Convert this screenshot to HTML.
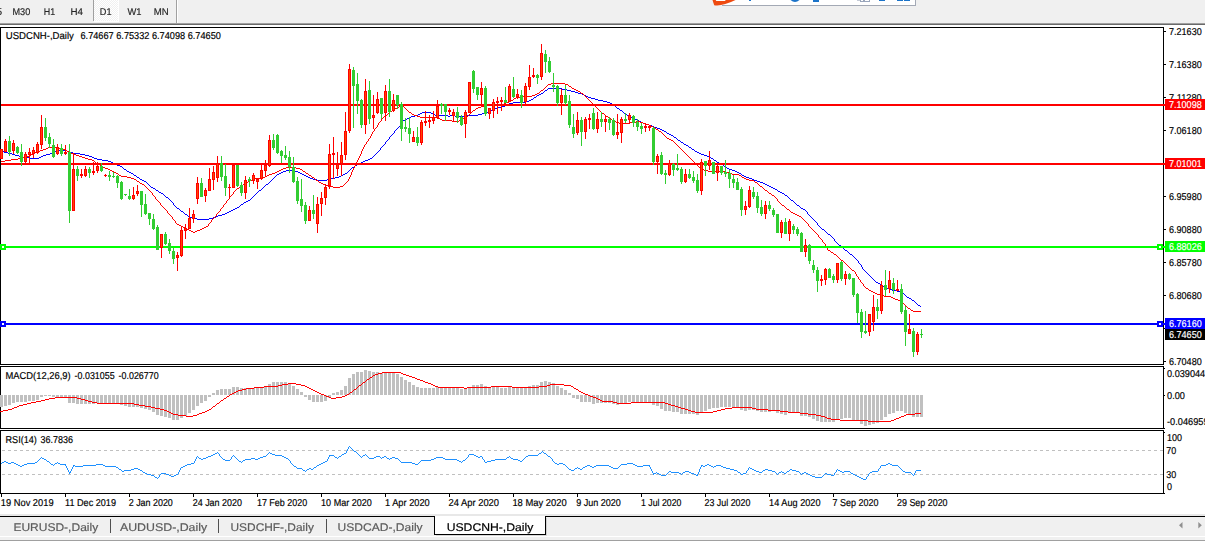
<!DOCTYPE html>
<html><head><meta charset="utf-8"><title>USDCNH-,Daily</title>
<style>
html,body{margin:0;padding:0;background:#fff;width:1205px;height:541px;overflow:hidden}
svg{display:block;font-family:"Liberation Sans",sans-serif}
</style></head><body>
<svg width="1205" height="541" viewBox="0 0 1205 541">
<rect x="0" y="0" width="1205" height="541" fill="#ffffff"/>
<rect x="0" y="0" width="1205" height="23" fill="#f0f0f0"/>
<rect x="0" y="23" width="1205" height="1" fill="#a0a0a0"/>
<rect x="0" y="24" width="1205" height="1" fill="#696969"/>
<rect x="93" y="0" width="1" height="21" fill="#a0a0a0"/>
<defs><filter id="idf" x="0" y="0" width="100%" height="100%"><feOffset dx="0" dy="0"/></filter><pattern id="dz" width="2" height="2" patternUnits="userSpaceOnUse"><rect width="2" height="2" fill="#f0f0f0"/><rect width="1" height="1" fill="#fff"/><rect x="1" y="1" width="1" height="1" fill="#fff"/></pattern></defs>
<rect x="94" y="0" width="24" height="21" fill="url(#dz)"/>
<rect x="94" y="21" width="25" height="1" fill="#ffffff"/>
<rect x="118" y="0" width="1" height="22" fill="#ffffff"/>
<rect x="176" y="0" width="1" height="23" fill="#a0a0a0"/>
<rect x="177" y="0" width="1" height="23" fill="#ffffff"/>
<g filter="url(#idf)">
<text transform="translate(-3.60,15) rotate(0.03) scale(0.5036,0.4900)" font-size="20" fill="#262626" stroke="#262626" stroke-width="0.35">5</text>
<text transform="translate(12.50,15) rotate(0.03) scale(0.4576,0.4900)" font-size="20" fill="#262626" stroke="#262626" stroke-width="0.35">M30</text>
<text transform="translate(43.80,15) rotate(0.03) scale(0.4460,0.4900)" font-size="20" fill="#262626" stroke="#262626" stroke-width="0.35">H1</text>
<text transform="translate(70.50,15) rotate(0.03) scale(0.4890,0.4900)" font-size="20" fill="#262626" stroke="#262626" stroke-width="0.35">H4</text>
<text transform="translate(99.80,15) rotate(0.03) scale(0.4577,0.4900)" font-size="20" fill="#262626" stroke="#262626" stroke-width="0.35">D1</text>
<text transform="translate(127.50,15) rotate(0.03) scale(0.4700,0.4900)" font-size="20" fill="#262626" stroke="#262626" stroke-width="0.35">W1</text>
<text transform="translate(153.75,15) rotate(0.03) scale(0.4823,0.4900)" font-size="20" fill="#262626" stroke="#262626" stroke-width="0.35">MN</text>
</g>
<rect x="714" y="0" width="201" height="5" fill="#ffffff"/>
<rect x="722" y="5" width="194" height="1" fill="#a3a9b5"/>
<rect x="915" y="0" width="1" height="6" fill="#a3a9b5"/>
<path d="M712.5 0 L714.2 5.2 Q722 6.6 735.5 0 Z" fill="#ee4a10"/>
<path d="M715.7 0 L716.3 1 L724.8 1 L725.9 0 Z" fill="#ffffff"/>
<rect x="749" y="0" width="2" height="1" fill="#1a73c9"/>
<path d="M790.5 0 Q795 4 799.5 0 Z" fill="#1a73c9"/>
<rect x="813" y="0" width="6" height="2" fill="#1a73c9"/>
<rect x="857" y="0" width="3" height="1" fill="#c4cad6"/>
<rect x="860" y="0" width="1" height="2" fill="#9aa6bc"/>
<rect x="863" y="0" width="1" height="2" fill="#9aa6bc"/>
<rect x="860" y="1" width="4" height="1" fill="#9aa6bc"/>
<rect x="864" y="0" width="1" height="2" fill="#9aa6bc"/>
<rect x="869" y="0" width="1" height="2" fill="#9aa6bc"/>
<rect x="864" y="1" width="6" height="1" fill="#9aa6bc"/>
<rect x="879" y="0" width="6" height="1" fill="#1a73c9"/>
<rect x="897" y="0" width="6" height="1" fill="#1a73c9"/>
<rect x="904" y="0" width="6" height="1" fill="#1a73c9"/>
<rect x="0" y="27" width="1164" height="1" fill="#000"/>
<rect x="0" y="27" width="1" height="338" fill="#000"/>
<rect x="0" y="364" width="1164" height="1" fill="#000"/>
<rect x="1163" y="27" width="1" height="338" fill="#000"/>
<rect x="1163" y="366" width="1" height="63" fill="#000"/>
<rect x="1163" y="430" width="1" height="64" fill="#000"/>
<rect x="0" y="366" width="1164" height="1" fill="#000"/>
<rect x="0" y="366" width="1" height="63" fill="#000"/>
<rect x="0" y="428" width="1165" height="1" fill="#000"/>
<rect x="0" y="430" width="1164" height="1" fill="#000"/>
<rect x="0" y="430" width="1" height="64" fill="#000"/>
<rect x="0" y="493" width="1165" height="1" fill="#000"/>
<rect x="1164" y="31" width="2" height="1" fill="#000"/>
<text transform="translate(1169.00,35) rotate(0.03) scale(0.4530,0.5000)" font-size="20" fill="#000" stroke="#000" stroke-width="0.35">7.21630</text>
<rect x="1164" y="64" width="2" height="1" fill="#000"/>
<text transform="translate(1169.00,68) rotate(0.03) scale(0.4530,0.5000)" font-size="20" fill="#000" stroke="#000" stroke-width="0.35">7.16380</text>
<rect x="1164" y="97" width="2" height="1" fill="#000"/>
<text transform="translate(1169.00,101) rotate(0.03) scale(0.4624,0.5000)" font-size="20" fill="#000" stroke="#000" stroke-width="0.35">7.11280</text>
<rect x="1164" y="130" width="2" height="1" fill="#000"/>
<text transform="translate(1169.00,134) rotate(0.03) scale(0.4530,0.5000)" font-size="20" fill="#000" stroke="#000" stroke-width="0.35">7.06180</text>
<rect x="1164" y="163" width="2" height="1" fill="#000"/>
<text transform="translate(1169.00,167) rotate(0.03) scale(0.4530,0.5000)" font-size="20" fill="#000" stroke="#000" stroke-width="0.35">7.01080</text>
<rect x="1164" y="196" width="2" height="1" fill="#000"/>
<text transform="translate(1169.00,200) rotate(0.03) scale(0.4530,0.5000)" font-size="20" fill="#000" stroke="#000" stroke-width="0.35">6.95980</text>
<rect x="1164" y="229" width="2" height="1" fill="#000"/>
<text transform="translate(1169.00,233) rotate(0.03) scale(0.4530,0.5000)" font-size="20" fill="#000" stroke="#000" stroke-width="0.35">6.90880</text>
<rect x="1164" y="262" width="2" height="1" fill="#000"/>
<text transform="translate(1169.00,266) rotate(0.03) scale(0.4530,0.5000)" font-size="20" fill="#000" stroke="#000" stroke-width="0.35">6.85780</text>
<rect x="1164" y="295" width="2" height="1" fill="#000"/>
<text transform="translate(1169.00,299) rotate(0.03) scale(0.4530,0.5000)" font-size="20" fill="#000" stroke="#000" stroke-width="0.35">6.80680</text>
<rect x="1164" y="328" width="2" height="1" fill="#000"/>
<text transform="translate(1169.00,332) rotate(0.03) scale(0.4530,0.5000)" font-size="20" fill="#000" stroke="#000" stroke-width="0.35">6.75580</text>
<rect x="1164" y="361" width="2" height="1" fill="#000"/>
<text transform="translate(1169.00,365) rotate(0.03) scale(0.4530,0.5000)" font-size="20" fill="#000" stroke="#000" stroke-width="0.35">6.70480</text>
<path d="M548 88.5h14M547 89.5h1M562 89.5h5M545 90.5h2M567 90.5h4M544 91.5h1M571 91.5h4M543 92.5h1M575 92.5h3M541 93.5h2M578 93.5h4M539 94.5h2M582 94.5h2M537 95.5h2M584 95.5h2M536 96.5h1M586 96.5h2M534 97.5h2M588 97.5h3M533 98.5h1M591 98.5h4M531 99.5h2M595 99.5h3M529 100.5h2M598 100.5h5M525 101.5h4M603 101.5h4M513 102.5h12M607 102.5h3M509 103.5h4M610 103.5h2M507 104.5h2M612 104.5h1M505 105.5h2M613 105.5h2M502 106.5h3M615 106.5h1M498 107.5h4M616 107.5h1M495 108.5h3M617 108.5h2M493 109.5h2M619 109.5h1M491 110.5h2M620 110.5h2M489 111.5h2M622 111.5h1M422 112.5h9M485 112.5h4M623 112.5h1M420 113.5h2M431 113.5h2M482 113.5h3M624 113.5h2M418 114.5h2M433 114.5h2M478 114.5h4M626 114.5h1M415 115.5h3M435 115.5h13M450 115.5h5M467 115.5h11M627 115.5h1M411 116.5h4M448 116.5h2M455 116.5h12M628 116.5h2M409 117.5h2M630 117.5h2M407 118.5h2M632 118.5h3M405 119.5h2M635 119.5h2M403 120.5h2M637 120.5h2M402.5 121v2M639 121.5h2M641 122.5h2M401.5 123v2M643 123.5h3M646 124.5h3M400 125.5h1M649 125.5h3M399 126.5h1M652 126.5h2M398 127.5h1M654 127.5h3M397 128.5h1M657 128.5h3M396 129.5h1M660 129.5h2M395 130.5h1M662 130.5h2M394.5 131v2M664 131.5h2M666 132.5h1M393 133.5h1M667 133.5h2M392 134.5h1M669 134.5h2M391 135.5h1M671 135.5h2M390 136.5h1M673 136.5h1M389.5 137v2M674 137.5h2M676 138.5h1M388 139.5h1M677 139.5h1M387 140.5h1M678 140.5h2M386 141.5h1M680 141.5h1M385.5 142v2M681 142.5h2M683 143.5h1M384 144.5h1M684 144.5h2M383 145.5h1M686 145.5h2M382 146.5h1M688 146.5h1M381 147.5h1M689 147.5h2M380.5 148v2M691 148.5h1M692 149.5h2M57 150.5h10M379 150.5h1M694 150.5h1M1 151.5h3M55 151.5h2M67 151.5h2M378 151.5h1M695 151.5h2M4 152.5h4M53 152.5h2M69 152.5h4M377 152.5h1M697 152.5h2M8 153.5h4M50 153.5h3M73 153.5h7M376 153.5h1M699 153.5h2M12 154.5h3M46 154.5h4M80 154.5h5M375 154.5h1M701 154.5h3M15 155.5h4M43 155.5h3M85 155.5h4M374 155.5h1M704 155.5h3M19 156.5h4M41 156.5h2M89 156.5h3M373 156.5h1M707 156.5h2M23 157.5h7M39 157.5h2M92 157.5h2M372 157.5h1M709 157.5h2M30 158.5h9M94 158.5h3M370 158.5h2M711 158.5h2M97 159.5h5M368 159.5h2M713 159.5h1M102 160.5h6M365 160.5h3M714 160.5h2M108 161.5h3M363 161.5h2M716 161.5h1M111 162.5h2M361 162.5h2M717 162.5h2M113 163.5h2M359 163.5h2M719 163.5h2M115 164.5h2M357 164.5h2M721 164.5h2M117 165.5h3M355 165.5h2M723 165.5h1M120 166.5h2M354 166.5h1M724 166.5h2M122 167.5h1M352 167.5h2M726 167.5h1M123 168.5h1M351 168.5h1M727 168.5h2M124 169.5h2M350 169.5h1M729 169.5h3M126 170.5h1M286 170.5h9M349 170.5h1M732 170.5h3M127 171.5h2M283 171.5h3M295 171.5h3M348 171.5h1M735 171.5h2M129 172.5h2M281 172.5h2M298 172.5h2M347 172.5h1M737 172.5h2M131 173.5h2M279 173.5h2M300 173.5h2M345 173.5h2M739 173.5h2M133 174.5h1M277 174.5h2M302 174.5h2M343 174.5h2M741 174.5h1M134 175.5h2M276 175.5h1M304 175.5h2M341 175.5h2M742 175.5h2M136 176.5h1M275 176.5h1M306 176.5h2M339 176.5h2M744 176.5h2M137 177.5h2M274 177.5h1M308 177.5h2M335 177.5h4M746 177.5h3M139 178.5h1M273 178.5h1M310 178.5h3M331 178.5h4M749 178.5h3M140 179.5h2M272 179.5h1M313 179.5h4M327 179.5h4M752 179.5h2M142 180.5h2M271 180.5h1M317 180.5h10M754 180.5h3M144 181.5h2M270 181.5h1M757 181.5h3M146 182.5h1M269 182.5h1M760 182.5h3M147 183.5h1M268 183.5h1M763 183.5h2M148 184.5h1M266 184.5h2M765 184.5h2M149 185.5h1M265 185.5h1M767 185.5h2M150 186.5h1M264 186.5h1M769 186.5h2M151 187.5h2M263 187.5h1M771 187.5h2M153 188.5h2M262 188.5h1M773 188.5h2M155 189.5h1M261 189.5h1M775 189.5h2M156 190.5h2M259 190.5h2M777 190.5h1M158 191.5h1M258 191.5h1M778 191.5h2M159 192.5h2M257 192.5h1M780 192.5h2M161 193.5h2M256 193.5h1M782 193.5h2M163 194.5h1M255 194.5h1M784 194.5h1M164 195.5h1M254 195.5h1M785 195.5h2M165 196.5h1M253 196.5h1M787 196.5h1M166 197.5h2M252 197.5h1M788 197.5h1M168 198.5h1M251 198.5h1M789 198.5h1M169 199.5h1M250 199.5h1M790 199.5h1M170 200.5h1M248 200.5h2M791 200.5h2M171 201.5h1M246 201.5h2M793 201.5h1M172 202.5h1M244 202.5h2M794 202.5h1M173.5 203v2M243 203.5h1M795 203.5h1M241 204.5h2M796 204.5h1M174 205.5h1M240 205.5h1M797 205.5h2M175 206.5h1M239 206.5h1M799 206.5h1M176 207.5h1M237 207.5h2M800 207.5h1M177 208.5h2M235 208.5h2M801 208.5h2M179 209.5h1M233 209.5h2M803 209.5h2M180 210.5h1M231 210.5h2M805 210.5h1M181 211.5h2M229 211.5h2M806 211.5h1M183 212.5h1M227 212.5h2M807.5 212v2M184 213.5h1M225 213.5h2M185 214.5h2M222 214.5h3M808 214.5h1M187 215.5h1M218 215.5h4M809 215.5h1M188 216.5h2M216 216.5h2M810 216.5h1M190 217.5h3M213 217.5h3M811 217.5h1M193 218.5h4M209 218.5h4M812 218.5h1M197 219.5h12M813 219.5h1M814 220.5h1M815 221.5h1M816 222.5h1M817.5 223v2M818 225.5h1M819 226.5h1M820 227.5h1M821 228.5h1M822 229.5h2M824 230.5h1M825 231.5h1M826 232.5h1M827 233.5h1M828 234.5h2M830 235.5h1M831 236.5h1M832 237.5h1M833 238.5h1M834.5 239v2M835 241.5h1M836 242.5h1M837 243.5h1M838 244.5h1M839 245.5h2M841 246.5h1M842 247.5h1M843 248.5h1M844 249.5h1M845 250.5h2M847 251.5h1M848 252.5h1M849 253.5h1M850 254.5h2M852 255.5h1M853 256.5h1M854 257.5h1M855 258.5h1M856 259.5h1M857 260.5h1M858.5 261v2M859 263.5h1M860 264.5h1M861.5 265v2M862.5 267v2M863 269.5h1M864 270.5h1M865 271.5h1M866 272.5h1M867 273.5h1M868 274.5h1M869 275.5h1M870 276.5h1M871 277.5h1M872 278.5h1M873 279.5h1M874 280.5h1M875 281.5h1M876 282.5h2M878 283.5h2M880 284.5h2M882 285.5h1M883 286.5h2M885 287.5h2M887 288.5h2M889 289.5h3M892 290.5h5M897 291.5h3M900 292.5h2M902 293.5h2M904 294.5h1M905 295.5h1M906 296.5h1M907 297.5h2M909 298.5h2M911 299.5h1M912 300.5h2M914 301.5h1M915 302.5h1M916 303.5h1M917 304.5h1M918 305.5h2M920 306.5h1" fill="none" stroke="#0000ff" stroke-width="1" shape-rendering="crispEdges"/>
<path d="M551 83.5h14M548 84.5h3M565 84.5h3M547 85.5h1M568 85.5h1M546 86.5h1M569 86.5h2M545 87.5h1M571 87.5h1M544 88.5h1M572 88.5h2M543 89.5h1M574 89.5h2M541 90.5h2M576 90.5h2M540 91.5h1M578 91.5h2M539 92.5h1M580 92.5h1M537 93.5h2M581 93.5h2M535 94.5h2M583 94.5h1M532 95.5h3M584 95.5h1M520 96.5h12M585 96.5h1M516 97.5h4M586 97.5h1M514 98.5h2M587 98.5h1M513 99.5h1M588 99.5h1M511 100.5h2M589 100.5h1M509 101.5h2M590 101.5h1M506 102.5h3M591 102.5h1M504 103.5h2M592 103.5h1M401 104.5h1M491 104.5h13M593 104.5h1M400 105.5h1M402 105.5h1M485 105.5h6M594 105.5h1M399 106.5h1M403 106.5h1M481 106.5h4M595 106.5h1M397 107.5h2M404 107.5h1M478 107.5h3M596 107.5h1M395 108.5h2M405 108.5h1M476 108.5h2M597 108.5h1M393 109.5h2M406 109.5h1M475 109.5h1M598 109.5h1M392 110.5h1M407 110.5h1M473 110.5h2M599 110.5h1M390 111.5h2M408 111.5h1M472 111.5h1M600 111.5h1M389 112.5h1M409 112.5h2M471 112.5h1M601 112.5h1M388 113.5h1M411 113.5h1M470 113.5h1M602 113.5h2M387 114.5h1M412 114.5h2M469 114.5h1M604 114.5h1M386 115.5h1M414 115.5h3M468 115.5h1M605 115.5h1M384 116.5h2M417 116.5h3M467 116.5h1M606 116.5h2M383 117.5h1M420 117.5h18M465 117.5h2M608 117.5h1M382 118.5h1M438 118.5h2M463 118.5h2M609 118.5h2M381.5 119v2M440 119.5h2M461 119.5h2M611 119.5h1M442 120.5h10M459 120.5h2M612 120.5h2M380 121.5h1M452 121.5h7M614 121.5h2M636 121.5h4M379 122.5h1M616 122.5h3M630 122.5h6M640 122.5h3M378.5 123v2M619 123.5h11M643 123.5h3M646 124.5h3M377.5 125v2M649 125.5h2M651 126.5h2M376 127.5h1M653 127.5h2M375 128.5h1M655 128.5h1M374.5 129v2M656 129.5h2M658 130.5h1M373 131.5h1M659 131.5h2M372.5 132v2M661 132.5h1M662 133.5h1M371.5 134v2M663 134.5h1M664 135.5h1M370.5 136v2M665 136.5h1M666 137.5h1M369 138.5h1M667 138.5h2M368.5 139v2M669 139.5h2M671 140.5h2M367 141.5h1M673 141.5h1M366.5 142v2M674 142.5h1M675 143.5h1M365 144.5h1M676 144.5h1M364.5 145v2M677 145.5h1M678 146.5h1M48 147.5h10M363.5 147v2M679 147.5h1M46 148.5h2M58 148.5h3M680 148.5h1M43 149.5h3M61 149.5h4M362.5 149v2M681 149.5h1M40 150.5h3M65 150.5h2M682 150.5h1M38 151.5h2M67 151.5h2M361.5 151v3M683 151.5h1M35 152.5h3M69 152.5h2M684 152.5h1M33 153.5h2M71 153.5h3M685 153.5h1M31 154.5h2M74 154.5h2M360.5 154v2M686 154.5h1M29 155.5h2M76 155.5h3M687 155.5h1M27 156.5h2M79 156.5h3M359.5 156v2M688 156.5h1M23 157.5h4M82 157.5h3M689 157.5h1M18 158.5h5M85 158.5h3M358.5 158v2M690 158.5h1M11 159.5h7M88 159.5h4M691 159.5h1M5 160.5h6M92 160.5h2M357.5 160v2M692 160.5h1M1 161.5h4M94 161.5h1M693 161.5h1M95 162.5h1M356.5 162v2M694 162.5h1M96 163.5h2M695 163.5h1M98 164.5h2M355.5 164v2M696 164.5h1M100 165.5h2M697 165.5h1M102 166.5h1M354.5 166v2M698 166.5h1M103 167.5h2M286 167.5h10M699 167.5h1M105 168.5h3M283 168.5h3M296 168.5h4M353.5 168v2M700 168.5h2M108 169.5h2M281 169.5h2M300 169.5h2M702 169.5h2M110 170.5h2M279 170.5h2M302 170.5h1M352.5 170v2M704 170.5h4M112 171.5h2M277 171.5h2M303 171.5h2M708 171.5h17M114 172.5h2M275 172.5h2M305 172.5h1M351.5 172v3M725 172.5h4M116 173.5h2M272 173.5h3M306 173.5h2M729 173.5h3M118 174.5h1M269 174.5h3M308 174.5h1M732 174.5h7M119 175.5h2M267 175.5h2M309 175.5h2M350.5 175v2M739 175.5h2M121 176.5h6M265 176.5h2M311 176.5h1M741 176.5h1M127 177.5h4M260 177.5h5M312 177.5h2M349.5 177v2M742 177.5h2M131 178.5h3M255 178.5h5M314 178.5h1M744 178.5h2M134 179.5h2M253 179.5h2M315 179.5h1M348.5 179v2M746 179.5h3M136 180.5h1M250 180.5h3M316 180.5h2M749 180.5h5M137 181.5h2M248 181.5h2M318 181.5h1M347 181.5h1M754 181.5h1M139 182.5h1M246 182.5h2M319 182.5h2M346 182.5h1M755 182.5h2M140 183.5h2M245 183.5h1M321 183.5h2M345 183.5h1M757 183.5h1M142 184.5h2M243 184.5h2M323 184.5h3M344 184.5h1M758 184.5h1M144 185.5h1M241 185.5h2M326 185.5h2M343 185.5h1M759 185.5h1M145 186.5h1M240 186.5h1M328 186.5h5M340 186.5h3M760 186.5h2M146 187.5h1M239 187.5h1M333 187.5h7M762 187.5h1M147 188.5h1M237 188.5h2M763 188.5h1M148 189.5h1M236 189.5h1M764 189.5h1M149 190.5h1M235 190.5h1M765 190.5h2M150 191.5h1M234 191.5h1M767 191.5h1M151 192.5h1M233.5 192v2M768 192.5h1M152.5 193v2M769 193.5h2M232 194.5h1M771 194.5h1M153 195.5h1M231 195.5h1M772 195.5h2M154 196.5h1M230 196.5h1M774 196.5h1M155.5 197v2M229.5 197v2M775 197.5h1M776 198.5h1M156 199.5h1M228 199.5h1M777.5 199v2M157 200.5h1M227 200.5h1M158 201.5h1M226.5 201v2M778 201.5h1M159 202.5h1M779 202.5h1M160.5 203v2M225 203.5h1M780 203.5h1M224 204.5h1M781 204.5h1M161 205.5h1M223.5 205v2M782 205.5h2M162 206.5h1M784 206.5h1M163 207.5h1M222 207.5h1M785 207.5h1M164 208.5h1M221 208.5h1M786 208.5h1M165 209.5h1M220.5 209v2M787 209.5h2M166 210.5h1M789 210.5h1M167.5 211v2M219 211.5h1M790 211.5h1M218 212.5h1M791 212.5h2M168 213.5h1M217 213.5h1M793 213.5h2M169 214.5h1M216.5 214v2M795 214.5h2M170 215.5h1M797 215.5h2M171 216.5h1M215 216.5h1M799 216.5h2M172.5 217v2M214 217.5h1M801 217.5h1M213 218.5h1M802 218.5h1M173 219.5h1M212 219.5h1M803 219.5h1M174 220.5h1M211.5 220v2M804 220.5h1M175.5 221v2M805 221.5h1M210 222.5h1M806 222.5h1M176 223.5h1M209 223.5h1M807 223.5h1M177 224.5h2M208.5 224v2M808.5 224v2M179 225.5h2M181 226.5h2M206 226.5h2M809 226.5h1M183 227.5h2M204 227.5h2M810 227.5h1M185 228.5h2M202 228.5h2M811 228.5h1M187 229.5h2M200 229.5h2M812 229.5h1M189 230.5h2M197 230.5h3M813 230.5h1M191 231.5h2M195 231.5h2M814 231.5h1M193 232.5h2M815 232.5h1M816 233.5h1M817 234.5h1M818.5 235v2M819 237.5h1M820 238.5h1M821 239.5h1M822.5 240v2M823 242.5h1M824 243.5h1M825.5 244v2M826.5 246v2M827.5 248v2M828 250.5h2M830 251.5h1M831 252.5h2M833 253.5h1M834 254.5h2M836 255.5h1M837 256.5h1M838 257.5h1M839 258.5h1M840 259.5h1M841 260.5h2M843 261.5h1M844 262.5h1M845 263.5h1M846 264.5h1M847 265.5h1M848 266.5h1M849 267.5h1M850 268.5h1M851 269.5h1M852 270.5h2M854 271.5h1M855.5 272v2M856.5 274v2M857 276.5h1M858.5 277v2M859 279.5h1M860.5 280v2M861 282.5h1M862 283.5h1M863.5 284v2M864 286.5h1M865 287.5h1M866 288.5h2M868 289.5h1M869 290.5h2M871 291.5h2M873 292.5h2M875 293.5h2M877 294.5h4M881 295.5h3M884 296.5h7M891 297.5h2M893 298.5h2M895 299.5h3M898 300.5h2M900 301.5h1M901 302.5h2M903 303.5h1M904 304.5h1M905 305.5h1M906 306.5h1M907 307.5h1M908 308.5h2M910 309.5h1M911 310.5h2M913 311.5h8" fill="none" stroke="#ff0000" stroke-width="1" shape-rendering="crispEdges"/>
<rect x="1" y="104" width="1162" height="2" fill="#ff0000"/>
<rect x="1" y="163" width="1162" height="2" fill="#ff0000"/>
<rect x="1" y="246" width="1162" height="2" fill="#00ff00"/>
<rect x="1" y="323" width="1162" height="2" fill="#0000ff"/>
<g shape-rendering="crispEdges">
<rect x="1" y="149" width="1" height="10" fill="#ff0000"/>
<rect x="0" y="149" width="3" height="10" fill="#ff0000"/>
<rect x="1" y="150" width="1" height="8" fill="#ff4500"/>
<rect x="5" y="139" width="1" height="13" fill="#ff0000"/>
<rect x="4" y="141" width="3" height="11" fill="#ff0000"/>
<rect x="5" y="142" width="1" height="9" fill="#ff4500"/>
<rect x="9" y="136" width="1" height="20" fill="#32cd32"/>
<rect x="8" y="141" width="3" height="11" fill="#32cd32"/>
<rect x="13" y="140" width="1" height="14" fill="#ff0000"/>
<rect x="12" y="143" width="3" height="8" fill="#ff0000"/>
<rect x="13" y="144" width="1" height="6" fill="#ff4500"/>
<rect x="17" y="146" width="1" height="8" fill="#32cd32"/>
<rect x="16" y="147" width="3" height="6" fill="#32cd32"/>
<rect x="21" y="144" width="1" height="22" fill="#32cd32"/>
<rect x="20" y="152" width="3" height="10" fill="#32cd32"/>
<rect x="25" y="152" width="1" height="11" fill="#ff0000"/>
<rect x="24" y="154" width="3" height="8" fill="#ff0000"/>
<rect x="25" y="155" width="1" height="6" fill="#ff4500"/>
<rect x="29" y="148" width="1" height="15" fill="#ff0000"/>
<rect x="28" y="152" width="3" height="3" fill="#ff0000"/>
<rect x="29" y="153" width="1" height="1" fill="#ff4500"/>
<rect x="33" y="147" width="1" height="11" fill="#ff0000"/>
<rect x="32" y="150" width="3" height="4" fill="#ff0000"/>
<rect x="33" y="151" width="1" height="2" fill="#ff4500"/>
<rect x="37" y="142" width="1" height="12" fill="#ff0000"/>
<rect x="36" y="144" width="3" height="9" fill="#ff0000"/>
<rect x="37" y="145" width="1" height="7" fill="#ff4500"/>
<rect x="41" y="115" width="1" height="34" fill="#ff0000"/>
<rect x="40" y="127" width="3" height="18" fill="#ff0000"/>
<rect x="41" y="128" width="1" height="16" fill="#ff4500"/>
<rect x="45" y="118" width="1" height="23" fill="#32cd32"/>
<rect x="44" y="127" width="3" height="11" fill="#32cd32"/>
<rect x="49" y="133" width="1" height="15" fill="#32cd32"/>
<rect x="48" y="137" width="3" height="7" fill="#32cd32"/>
<rect x="53" y="139" width="1" height="19" fill="#32cd32"/>
<rect x="52" y="145" width="3" height="12" fill="#32cd32"/>
<rect x="57" y="144" width="1" height="11" fill="#ff0000"/>
<rect x="56" y="147" width="3" height="7" fill="#ff0000"/>
<rect x="57" y="148" width="1" height="5" fill="#ff4500"/>
<rect x="61" y="144" width="1" height="12" fill="#32cd32"/>
<rect x="60" y="148" width="3" height="6" fill="#32cd32"/>
<rect x="65" y="145" width="1" height="10" fill="#ff0000"/>
<rect x="64" y="152" width="3" height="2" fill="#ff0000"/>
<rect x="69" y="144" width="1" height="79" fill="#32cd32"/>
<rect x="68" y="152" width="3" height="59" fill="#32cd32"/>
<rect x="73" y="154" width="1" height="57" fill="#ff0000"/>
<rect x="72" y="169" width="3" height="42" fill="#ff0000"/>
<rect x="73" y="170" width="1" height="40" fill="#ff4500"/>
<rect x="77" y="166" width="1" height="15" fill="#32cd32"/>
<rect x="76" y="169" width="3" height="7" fill="#32cd32"/>
<rect x="81" y="169" width="1" height="9" fill="#ff0000"/>
<rect x="80" y="174" width="3" height="2" fill="#ff0000"/>
<rect x="85" y="166" width="1" height="11" fill="#ff0000"/>
<rect x="84" y="169" width="3" height="7" fill="#ff0000"/>
<rect x="85" y="170" width="1" height="5" fill="#ff4500"/>
<rect x="89" y="167" width="1" height="11" fill="#32cd32"/>
<rect x="88" y="169" width="3" height="4" fill="#32cd32"/>
<rect x="93" y="162" width="1" height="13" fill="#ff0000"/>
<rect x="92" y="171" width="3" height="2" fill="#ff0000"/>
<rect x="97" y="162" width="1" height="11" fill="#ff0000"/>
<rect x="96" y="166" width="3" height="5" fill="#ff0000"/>
<rect x="97" y="167" width="1" height="3" fill="#ff4500"/>
<rect x="101" y="163" width="1" height="9" fill="#32cd32"/>
<rect x="100" y="166" width="3" height="5" fill="#32cd32"/>
<rect x="105" y="174" width="1" height="3" fill="#ff0000"/>
<rect x="104" y="175" width="3" height="1" fill="#ff0000"/>
<rect x="109" y="171" width="1" height="10" fill="#32cd32"/>
<rect x="108" y="175" width="3" height="2" fill="#32cd32"/>
<rect x="113" y="172" width="1" height="6" fill="#32cd32"/>
<rect x="112" y="176" width="3" height="1" fill="#32cd32"/>
<rect x="117" y="175" width="1" height="13" fill="#32cd32"/>
<rect x="116" y="176" width="3" height="7" fill="#32cd32"/>
<rect x="121" y="181" width="1" height="19" fill="#32cd32"/>
<rect x="120" y="182" width="3" height="17" fill="#32cd32"/>
<rect x="125" y="194" width="1" height="2" fill="#32cd32"/>
<rect x="124" y="194" width="3" height="1" fill="#32cd32"/>
<rect x="129" y="189" width="1" height="11" fill="#32cd32"/>
<rect x="128" y="196" width="3" height="3" fill="#32cd32"/>
<rect x="133" y="187" width="1" height="13" fill="#ff0000"/>
<rect x="132" y="195" width="3" height="4" fill="#ff0000"/>
<rect x="133" y="196" width="1" height="2" fill="#ff4500"/>
<rect x="137" y="185" width="1" height="11" fill="#ff0000"/>
<rect x="136" y="191" width="3" height="3" fill="#ff0000"/>
<rect x="137" y="192" width="1" height="1" fill="#ff4500"/>
<rect x="141" y="191" width="1" height="26" fill="#32cd32"/>
<rect x="140" y="191" width="3" height="14" fill="#32cd32"/>
<rect x="145" y="194" width="1" height="21" fill="#32cd32"/>
<rect x="144" y="204" width="3" height="10" fill="#32cd32"/>
<rect x="149" y="213" width="1" height="12" fill="#32cd32"/>
<rect x="148" y="213" width="3" height="6" fill="#32cd32"/>
<rect x="153" y="214" width="1" height="16" fill="#32cd32"/>
<rect x="152" y="219" width="3" height="10" fill="#32cd32"/>
<rect x="157" y="225" width="1" height="25" fill="#32cd32"/>
<rect x="156" y="227" width="3" height="23" fill="#32cd32"/>
<rect x="161" y="234" width="1" height="24" fill="#ff0000"/>
<rect x="160" y="234" width="3" height="14" fill="#ff0000"/>
<rect x="161" y="235" width="1" height="12" fill="#ff4500"/>
<rect x="165" y="232" width="1" height="13" fill="#32cd32"/>
<rect x="164" y="234" width="3" height="10" fill="#32cd32"/>
<rect x="169" y="239" width="1" height="15" fill="#32cd32"/>
<rect x="168" y="243" width="3" height="8" fill="#32cd32"/>
<rect x="173" y="248" width="1" height="16" fill="#32cd32"/>
<rect x="172" y="251" width="3" height="8" fill="#32cd32"/>
<rect x="177" y="252" width="1" height="19" fill="#ff0000"/>
<rect x="176" y="255" width="3" height="3" fill="#ff0000"/>
<rect x="177" y="256" width="1" height="1" fill="#ff4500"/>
<rect x="181" y="226" width="1" height="31" fill="#ff0000"/>
<rect x="180" y="230" width="3" height="26" fill="#ff0000"/>
<rect x="181" y="231" width="1" height="24" fill="#ff4500"/>
<rect x="185" y="224" width="1" height="15" fill="#ff0000"/>
<rect x="184" y="228" width="3" height="3" fill="#ff0000"/>
<rect x="185" y="229" width="1" height="1" fill="#ff4500"/>
<rect x="189" y="208" width="1" height="21" fill="#ff0000"/>
<rect x="188" y="218" width="3" height="11" fill="#ff0000"/>
<rect x="189" y="219" width="1" height="9" fill="#ff4500"/>
<rect x="193" y="210" width="1" height="13" fill="#ff0000"/>
<rect x="192" y="214" width="3" height="5" fill="#ff0000"/>
<rect x="193" y="215" width="1" height="3" fill="#ff4500"/>
<rect x="197" y="177" width="1" height="27" fill="#ff0000"/>
<rect x="196" y="183" width="3" height="16" fill="#ff0000"/>
<rect x="197" y="184" width="1" height="14" fill="#ff4500"/>
<rect x="201" y="178" width="1" height="19" fill="#32cd32"/>
<rect x="200" y="183" width="3" height="14" fill="#32cd32"/>
<rect x="205" y="188" width="1" height="14" fill="#ff0000"/>
<rect x="204" y="190" width="3" height="6" fill="#ff0000"/>
<rect x="205" y="191" width="1" height="4" fill="#ff4500"/>
<rect x="209" y="168" width="1" height="23" fill="#ff0000"/>
<rect x="208" y="179" width="3" height="12" fill="#ff0000"/>
<rect x="209" y="180" width="1" height="10" fill="#ff4500"/>
<rect x="213" y="166" width="1" height="24" fill="#ff0000"/>
<rect x="212" y="172" width="3" height="8" fill="#ff0000"/>
<rect x="213" y="173" width="1" height="6" fill="#ff4500"/>
<rect x="217" y="156" width="1" height="26" fill="#ff0000"/>
<rect x="216" y="163" width="3" height="15" fill="#ff0000"/>
<rect x="217" y="164" width="1" height="13" fill="#ff4500"/>
<rect x="221" y="156" width="1" height="25" fill="#32cd32"/>
<rect x="220" y="163" width="3" height="14" fill="#32cd32"/>
<rect x="225" y="164" width="1" height="32" fill="#32cd32"/>
<rect x="224" y="176" width="3" height="12" fill="#32cd32"/>
<rect x="229" y="184" width="1" height="14" fill="#ff0000"/>
<rect x="228" y="187" width="3" height="1" fill="#ff0000"/>
<rect x="233" y="165" width="1" height="23" fill="#ff0000"/>
<rect x="232" y="165" width="3" height="23" fill="#ff0000"/>
<rect x="233" y="166" width="1" height="21" fill="#ff4500"/>
<rect x="237" y="165" width="1" height="22" fill="#32cd32"/>
<rect x="236" y="165" width="3" height="21" fill="#32cd32"/>
<rect x="241" y="182" width="1" height="14" fill="#32cd32"/>
<rect x="240" y="185" width="3" height="8" fill="#32cd32"/>
<rect x="245" y="176" width="1" height="23" fill="#ff0000"/>
<rect x="244" y="180" width="3" height="13" fill="#ff0000"/>
<rect x="245" y="181" width="1" height="11" fill="#ff4500"/>
<rect x="249" y="177" width="1" height="10" fill="#32cd32"/>
<rect x="248" y="179" width="3" height="2" fill="#32cd32"/>
<rect x="253" y="173" width="1" height="11" fill="#ff0000"/>
<rect x="252" y="175" width="3" height="6" fill="#ff0000"/>
<rect x="253" y="176" width="1" height="4" fill="#ff4500"/>
<rect x="257" y="178" width="1" height="11" fill="#ff0000"/>
<rect x="256" y="179" width="3" height="3" fill="#ff0000"/>
<rect x="257" y="180" width="1" height="1" fill="#ff4500"/>
<rect x="261" y="164" width="1" height="16" fill="#ff0000"/>
<rect x="260" y="170" width="3" height="9" fill="#ff0000"/>
<rect x="261" y="171" width="1" height="7" fill="#ff4500"/>
<rect x="265" y="160" width="1" height="16" fill="#ff0000"/>
<rect x="264" y="165" width="3" height="6" fill="#ff0000"/>
<rect x="265" y="166" width="1" height="4" fill="#ff4500"/>
<rect x="269" y="135" width="1" height="32" fill="#ff0000"/>
<rect x="268" y="140" width="3" height="26" fill="#ff0000"/>
<rect x="269" y="141" width="1" height="24" fill="#ff4500"/>
<rect x="273" y="134" width="1" height="16" fill="#32cd32"/>
<rect x="272" y="140" width="3" height="8" fill="#32cd32"/>
<rect x="277" y="134" width="1" height="20" fill="#32cd32"/>
<rect x="276" y="135" width="3" height="18" fill="#32cd32"/>
<rect x="281" y="150" width="1" height="13" fill="#32cd32"/>
<rect x="280" y="151" width="3" height="5" fill="#32cd32"/>
<rect x="285" y="146" width="1" height="14" fill="#32cd32"/>
<rect x="284" y="155" width="3" height="3" fill="#32cd32"/>
<rect x="289" y="151" width="1" height="22" fill="#32cd32"/>
<rect x="288" y="157" width="3" height="10" fill="#32cd32"/>
<rect x="293" y="157" width="1" height="26" fill="#32cd32"/>
<rect x="292" y="167" width="3" height="15" fill="#32cd32"/>
<rect x="297" y="177" width="1" height="27" fill="#32cd32"/>
<rect x="296" y="181" width="3" height="20" fill="#32cd32"/>
<rect x="301" y="179" width="1" height="33" fill="#32cd32"/>
<rect x="300" y="199" width="3" height="7" fill="#32cd32"/>
<rect x="305" y="202" width="1" height="22" fill="#32cd32"/>
<rect x="304" y="205" width="3" height="16" fill="#32cd32"/>
<rect x="309" y="206" width="1" height="15" fill="#ff0000"/>
<rect x="308" y="210" width="3" height="11" fill="#ff0000"/>
<rect x="309" y="211" width="1" height="9" fill="#ff4500"/>
<rect x="313" y="195" width="1" height="24" fill="#32cd32"/>
<rect x="312" y="210" width="3" height="4" fill="#32cd32"/>
<rect x="317" y="197" width="1" height="36" fill="#ff0000"/>
<rect x="316" y="204" width="3" height="20" fill="#ff0000"/>
<rect x="317" y="205" width="1" height="18" fill="#ff4500"/>
<rect x="321" y="192" width="1" height="24" fill="#ff0000"/>
<rect x="320" y="198" width="3" height="6" fill="#ff0000"/>
<rect x="321" y="199" width="1" height="4" fill="#ff4500"/>
<rect x="325" y="185" width="1" height="20" fill="#ff0000"/>
<rect x="324" y="187" width="3" height="11" fill="#ff0000"/>
<rect x="325" y="188" width="1" height="9" fill="#ff4500"/>
<rect x="329" y="144" width="1" height="45" fill="#ff0000"/>
<rect x="328" y="154" width="3" height="32" fill="#ff0000"/>
<rect x="329" y="155" width="1" height="30" fill="#ff4500"/>
<rect x="333" y="137" width="1" height="42" fill="#ff0000"/>
<rect x="332" y="153" width="3" height="2" fill="#ff0000"/>
<rect x="337" y="152" width="1" height="24" fill="#ff0000"/>
<rect x="336" y="164" width="3" height="5" fill="#ff0000"/>
<rect x="337" y="165" width="1" height="3" fill="#ff4500"/>
<rect x="341" y="142" width="1" height="34" fill="#ff0000"/>
<rect x="340" y="155" width="3" height="9" fill="#ff0000"/>
<rect x="341" y="156" width="1" height="7" fill="#ff4500"/>
<rect x="345" y="112" width="1" height="48" fill="#ff0000"/>
<rect x="344" y="131" width="3" height="24" fill="#ff0000"/>
<rect x="345" y="132" width="1" height="22" fill="#ff4500"/>
<rect x="349" y="64" width="1" height="69" fill="#ff0000"/>
<rect x="348" y="69" width="3" height="62" fill="#ff0000"/>
<rect x="349" y="70" width="1" height="60" fill="#ff4500"/>
<rect x="353" y="67" width="1" height="61" fill="#32cd32"/>
<rect x="352" y="70" width="3" height="16" fill="#32cd32"/>
<rect x="357" y="73" width="1" height="41" fill="#32cd32"/>
<rect x="356" y="84" width="3" height="17" fill="#32cd32"/>
<rect x="361" y="99" width="1" height="29" fill="#32cd32"/>
<rect x="360" y="100" width="3" height="25" fill="#32cd32"/>
<rect x="365" y="79" width="1" height="55" fill="#ff0000"/>
<rect x="364" y="91" width="3" height="34" fill="#ff0000"/>
<rect x="365" y="92" width="1" height="32" fill="#ff4500"/>
<rect x="369" y="81" width="1" height="43" fill="#32cd32"/>
<rect x="368" y="90" width="3" height="29" fill="#32cd32"/>
<rect x="373" y="95" width="1" height="34" fill="#ff0000"/>
<rect x="372" y="115" width="3" height="3" fill="#ff0000"/>
<rect x="373" y="116" width="1" height="1" fill="#ff4500"/>
<rect x="377" y="92" width="1" height="22" fill="#ff0000"/>
<rect x="376" y="99" width="3" height="14" fill="#ff0000"/>
<rect x="377" y="100" width="1" height="12" fill="#ff4500"/>
<rect x="381" y="98" width="1" height="21" fill="#32cd32"/>
<rect x="380" y="98" width="3" height="16" fill="#32cd32"/>
<rect x="385" y="85" width="1" height="36" fill="#ff0000"/>
<rect x="384" y="91" width="3" height="22" fill="#ff0000"/>
<rect x="385" y="92" width="1" height="20" fill="#ff4500"/>
<rect x="389" y="79" width="1" height="38" fill="#32cd32"/>
<rect x="388" y="91" width="3" height="21" fill="#32cd32"/>
<rect x="393" y="94" width="1" height="18" fill="#ff0000"/>
<rect x="392" y="100" width="3" height="11" fill="#ff0000"/>
<rect x="393" y="101" width="1" height="9" fill="#ff4500"/>
<rect x="397" y="95" width="1" height="14" fill="#32cd32"/>
<rect x="396" y="95" width="3" height="10" fill="#32cd32"/>
<rect x="401" y="102" width="1" height="39" fill="#32cd32"/>
<rect x="400" y="104" width="3" height="25" fill="#32cd32"/>
<rect x="405" y="118" width="1" height="14" fill="#32cd32"/>
<rect x="404" y="127" width="3" height="2" fill="#32cd32"/>
<rect x="409" y="117" width="1" height="26" fill="#32cd32"/>
<rect x="408" y="128" width="3" height="6" fill="#32cd32"/>
<rect x="413" y="131" width="1" height="11" fill="#ff0000"/>
<rect x="412" y="137" width="3" height="5" fill="#ff0000"/>
<rect x="413" y="138" width="1" height="3" fill="#ff4500"/>
<rect x="417" y="127" width="1" height="19" fill="#32cd32"/>
<rect x="416" y="137" width="3" height="6" fill="#32cd32"/>
<rect x="421" y="120" width="1" height="25" fill="#ff0000"/>
<rect x="420" y="122" width="3" height="21" fill="#ff0000"/>
<rect x="421" y="123" width="1" height="19" fill="#ff4500"/>
<rect x="425" y="111" width="1" height="15" fill="#ff0000"/>
<rect x="424" y="121" width="3" height="2" fill="#ff0000"/>
<rect x="429" y="115" width="1" height="13" fill="#ff0000"/>
<rect x="428" y="120" width="3" height="2" fill="#ff0000"/>
<rect x="433" y="111" width="1" height="13" fill="#ff0000"/>
<rect x="432" y="117" width="3" height="4" fill="#ff0000"/>
<rect x="433" y="118" width="1" height="2" fill="#ff4500"/>
<rect x="437" y="100" width="1" height="19" fill="#ff0000"/>
<rect x="436" y="106" width="3" height="12" fill="#ff0000"/>
<rect x="437" y="107" width="1" height="10" fill="#ff4500"/>
<rect x="441" y="103" width="1" height="11" fill="#32cd32"/>
<rect x="440" y="104" width="3" height="2" fill="#32cd32"/>
<rect x="445" y="104" width="1" height="17" fill="#32cd32"/>
<rect x="444" y="104" width="3" height="8" fill="#32cd32"/>
<rect x="449" y="108" width="1" height="7" fill="#ff0000"/>
<rect x="448" y="110" width="3" height="2" fill="#ff0000"/>
<rect x="453" y="109" width="1" height="13" fill="#ff0000"/>
<rect x="452" y="112" width="3" height="4" fill="#ff0000"/>
<rect x="453" y="113" width="1" height="2" fill="#ff4500"/>
<rect x="457" y="107" width="1" height="16" fill="#32cd32"/>
<rect x="456" y="112" width="3" height="6" fill="#32cd32"/>
<rect x="461" y="115" width="1" height="11" fill="#32cd32"/>
<rect x="460" y="117" width="3" height="8" fill="#32cd32"/>
<rect x="465" y="110" width="1" height="28" fill="#ff0000"/>
<rect x="464" y="112" width="3" height="12" fill="#ff0000"/>
<rect x="465" y="113" width="1" height="10" fill="#ff4500"/>
<rect x="469" y="82" width="1" height="31" fill="#ff0000"/>
<rect x="468" y="82" width="3" height="31" fill="#ff0000"/>
<rect x="469" y="83" width="1" height="29" fill="#ff4500"/>
<rect x="473" y="70" width="1" height="23" fill="#32cd32"/>
<rect x="472" y="71" width="3" height="18" fill="#32cd32"/>
<rect x="477" y="87" width="1" height="13" fill="#32cd32"/>
<rect x="476" y="87" width="3" height="8" fill="#32cd32"/>
<rect x="481" y="82" width="1" height="24" fill="#ff0000"/>
<rect x="480" y="88" width="3" height="7" fill="#ff0000"/>
<rect x="481" y="89" width="1" height="5" fill="#ff4500"/>
<rect x="485" y="86" width="1" height="30" fill="#32cd32"/>
<rect x="484" y="88" width="3" height="26" fill="#32cd32"/>
<rect x="489" y="108" width="1" height="11" fill="#ff0000"/>
<rect x="488" y="108" width="3" height="6" fill="#ff0000"/>
<rect x="489" y="109" width="1" height="4" fill="#ff4500"/>
<rect x="493" y="99" width="1" height="19" fill="#ff0000"/>
<rect x="492" y="102" width="3" height="9" fill="#ff0000"/>
<rect x="493" y="103" width="1" height="7" fill="#ff4500"/>
<rect x="497" y="97" width="1" height="17" fill="#ff0000"/>
<rect x="496" y="101" width="3" height="2" fill="#ff0000"/>
<rect x="501" y="97" width="1" height="14" fill="#ff0000"/>
<rect x="500" y="100" width="3" height="2" fill="#ff0000"/>
<rect x="505" y="87" width="1" height="16" fill="#32cd32"/>
<rect x="504" y="100" width="3" height="3" fill="#32cd32"/>
<rect x="509" y="84" width="1" height="18" fill="#ff0000"/>
<rect x="508" y="86" width="3" height="16" fill="#ff0000"/>
<rect x="509" y="87" width="1" height="14" fill="#ff4500"/>
<rect x="513" y="77" width="1" height="21" fill="#32cd32"/>
<rect x="512" y="89" width="3" height="8" fill="#32cd32"/>
<rect x="517" y="89" width="1" height="10" fill="#ff0000"/>
<rect x="516" y="94" width="3" height="3" fill="#ff0000"/>
<rect x="517" y="95" width="1" height="1" fill="#ff4500"/>
<rect x="521" y="90" width="1" height="18" fill="#32cd32"/>
<rect x="520" y="95" width="3" height="8" fill="#32cd32"/>
<rect x="525" y="83" width="1" height="21" fill="#ff0000"/>
<rect x="524" y="86" width="3" height="16" fill="#ff0000"/>
<rect x="525" y="87" width="1" height="14" fill="#ff4500"/>
<rect x="529" y="65" width="1" height="25" fill="#ff0000"/>
<rect x="528" y="77" width="3" height="10" fill="#ff0000"/>
<rect x="529" y="78" width="1" height="8" fill="#ff4500"/>
<rect x="533" y="68" width="1" height="10" fill="#ff0000"/>
<rect x="532" y="75" width="3" height="2" fill="#ff0000"/>
<rect x="537" y="74" width="1" height="10" fill="#32cd32"/>
<rect x="536" y="75" width="3" height="3" fill="#32cd32"/>
<rect x="541" y="44" width="1" height="36" fill="#ff0000"/>
<rect x="540" y="53" width="3" height="24" fill="#ff0000"/>
<rect x="541" y="54" width="1" height="22" fill="#ff4500"/>
<rect x="545" y="50" width="1" height="23" fill="#32cd32"/>
<rect x="544" y="54" width="3" height="8" fill="#32cd32"/>
<rect x="549" y="57" width="1" height="16" fill="#32cd32"/>
<rect x="548" y="61" width="3" height="11" fill="#32cd32"/>
<rect x="553" y="73" width="1" height="19" fill="#32cd32"/>
<rect x="552" y="85" width="3" height="2" fill="#32cd32"/>
<rect x="557" y="85" width="1" height="21" fill="#32cd32"/>
<rect x="556" y="86" width="3" height="17" fill="#32cd32"/>
<rect x="561" y="89" width="1" height="26" fill="#ff0000"/>
<rect x="560" y="95" width="3" height="8" fill="#ff0000"/>
<rect x="561" y="96" width="1" height="6" fill="#ff4500"/>
<rect x="565" y="85" width="1" height="20" fill="#32cd32"/>
<rect x="564" y="95" width="3" height="8" fill="#32cd32"/>
<rect x="569" y="95" width="1" height="33" fill="#32cd32"/>
<rect x="568" y="101" width="3" height="24" fill="#32cd32"/>
<rect x="573" y="114" width="1" height="24" fill="#32cd32"/>
<rect x="572" y="127" width="3" height="7" fill="#32cd32"/>
<rect x="577" y="112" width="1" height="23" fill="#ff0000"/>
<rect x="576" y="120" width="3" height="13" fill="#ff0000"/>
<rect x="577" y="121" width="1" height="11" fill="#ff4500"/>
<rect x="581" y="117" width="1" height="29" fill="#32cd32"/>
<rect x="580" y="120" width="3" height="12" fill="#32cd32"/>
<rect x="585" y="117" width="1" height="22" fill="#ff0000"/>
<rect x="584" y="119" width="3" height="13" fill="#ff0000"/>
<rect x="585" y="120" width="1" height="11" fill="#ff4500"/>
<rect x="589" y="114" width="1" height="15" fill="#ff0000"/>
<rect x="588" y="118" width="3" height="2" fill="#ff0000"/>
<rect x="593" y="108" width="1" height="22" fill="#32cd32"/>
<rect x="592" y="113" width="3" height="16" fill="#32cd32"/>
<rect x="597" y="112" width="1" height="21" fill="#ff0000"/>
<rect x="596" y="119" width="3" height="10" fill="#ff0000"/>
<rect x="597" y="120" width="1" height="8" fill="#ff4500"/>
<rect x="601" y="112" width="1" height="15" fill="#32cd32"/>
<rect x="600" y="119" width="3" height="3" fill="#32cd32"/>
<rect x="605" y="115" width="1" height="17" fill="#ff0000"/>
<rect x="604" y="119" width="3" height="3" fill="#ff0000"/>
<rect x="605" y="120" width="1" height="1" fill="#ff4500"/>
<rect x="609" y="117" width="1" height="13" fill="#32cd32"/>
<rect x="608" y="119" width="3" height="4" fill="#32cd32"/>
<rect x="613" y="118" width="1" height="18" fill="#32cd32"/>
<rect x="612" y="120" width="3" height="15" fill="#32cd32"/>
<rect x="617" y="114" width="1" height="25" fill="#ff0000"/>
<rect x="616" y="132" width="3" height="3" fill="#ff0000"/>
<rect x="617" y="133" width="1" height="1" fill="#ff4500"/>
<rect x="621" y="117" width="1" height="26" fill="#ff0000"/>
<rect x="620" y="119" width="3" height="14" fill="#ff0000"/>
<rect x="621" y="120" width="1" height="12" fill="#ff4500"/>
<rect x="625" y="113" width="1" height="10" fill="#32cd32"/>
<rect x="624" y="119" width="3" height="2" fill="#32cd32"/>
<rect x="629" y="113" width="1" height="11" fill="#ff0000"/>
<rect x="628" y="115" width="3" height="5" fill="#ff0000"/>
<rect x="629" y="116" width="1" height="3" fill="#ff4500"/>
<rect x="633" y="115" width="1" height="12" fill="#32cd32"/>
<rect x="632" y="116" width="3" height="7" fill="#32cd32"/>
<rect x="637" y="119" width="1" height="12" fill="#32cd32"/>
<rect x="636" y="122" width="3" height="5" fill="#32cd32"/>
<rect x="641" y="123" width="1" height="11" fill="#32cd32"/>
<rect x="640" y="126" width="3" height="3" fill="#32cd32"/>
<rect x="645" y="124" width="1" height="8" fill="#ff0000"/>
<rect x="644" y="126" width="3" height="2" fill="#ff0000"/>
<rect x="649" y="125" width="1" height="6" fill="#ff0000"/>
<rect x="648" y="126" width="3" height="2" fill="#ff0000"/>
<rect x="653" y="127" width="1" height="38" fill="#32cd32"/>
<rect x="652" y="128" width="3" height="34" fill="#32cd32"/>
<rect x="657" y="154" width="1" height="20" fill="#ff0000"/>
<rect x="656" y="156" width="3" height="6" fill="#ff0000"/>
<rect x="657" y="157" width="1" height="4" fill="#ff4500"/>
<rect x="661" y="152" width="1" height="23" fill="#32cd32"/>
<rect x="660" y="155" width="3" height="19" fill="#32cd32"/>
<rect x="665" y="170" width="1" height="14" fill="#32cd32"/>
<rect x="664" y="173" width="3" height="2" fill="#32cd32"/>
<rect x="669" y="160" width="1" height="16" fill="#ff0000"/>
<rect x="668" y="163" width="3" height="12" fill="#ff0000"/>
<rect x="669" y="164" width="1" height="10" fill="#ff4500"/>
<rect x="673" y="163" width="1" height="13" fill="#32cd32"/>
<rect x="672" y="164" width="3" height="6" fill="#32cd32"/>
<rect x="677" y="154" width="1" height="17" fill="#32cd32"/>
<rect x="676" y="168" width="3" height="2" fill="#32cd32"/>
<rect x="681" y="167" width="1" height="17" fill="#32cd32"/>
<rect x="680" y="169" width="3" height="13" fill="#32cd32"/>
<rect x="685" y="169" width="1" height="14" fill="#ff0000"/>
<rect x="684" y="174" width="3" height="8" fill="#ff0000"/>
<rect x="685" y="175" width="1" height="6" fill="#ff4500"/>
<rect x="689" y="169" width="1" height="10" fill="#32cd32"/>
<rect x="688" y="174" width="3" height="4" fill="#32cd32"/>
<rect x="693" y="171" width="1" height="12" fill="#32cd32"/>
<rect x="692" y="177" width="3" height="4" fill="#32cd32"/>
<rect x="697" y="174" width="1" height="19" fill="#32cd32"/>
<rect x="696" y="180" width="3" height="11" fill="#32cd32"/>
<rect x="701" y="159" width="1" height="36" fill="#ff0000"/>
<rect x="700" y="162" width="3" height="29" fill="#ff0000"/>
<rect x="701" y="163" width="1" height="27" fill="#ff4500"/>
<rect x="705" y="161" width="1" height="15" fill="#32cd32"/>
<rect x="704" y="161" width="3" height="5" fill="#32cd32"/>
<rect x="709" y="151" width="1" height="19" fill="#ff0000"/>
<rect x="708" y="160" width="3" height="6" fill="#ff0000"/>
<rect x="709" y="161" width="1" height="4" fill="#ff4500"/>
<rect x="713" y="162" width="1" height="12" fill="#32cd32"/>
<rect x="712" y="162" width="3" height="12" fill="#32cd32"/>
<rect x="717" y="165" width="1" height="16" fill="#ff0000"/>
<rect x="716" y="166" width="3" height="7" fill="#ff0000"/>
<rect x="717" y="167" width="1" height="5" fill="#ff4500"/>
<rect x="721" y="166" width="1" height="9" fill="#32cd32"/>
<rect x="720" y="166" width="3" height="7" fill="#32cd32"/>
<rect x="725" y="160" width="1" height="17" fill="#32cd32"/>
<rect x="724" y="172" width="3" height="2" fill="#32cd32"/>
<rect x="729" y="170" width="1" height="18" fill="#32cd32"/>
<rect x="728" y="173" width="3" height="6" fill="#32cd32"/>
<rect x="733" y="175" width="1" height="13" fill="#32cd32"/>
<rect x="732" y="179" width="3" height="4" fill="#32cd32"/>
<rect x="737" y="178" width="1" height="12" fill="#32cd32"/>
<rect x="736" y="182" width="3" height="8" fill="#32cd32"/>
<rect x="741" y="187" width="1" height="29" fill="#32cd32"/>
<rect x="740" y="189" width="3" height="21" fill="#32cd32"/>
<rect x="745" y="201" width="1" height="14" fill="#ff0000"/>
<rect x="744" y="206" width="3" height="4" fill="#ff0000"/>
<rect x="745" y="207" width="1" height="2" fill="#ff4500"/>
<rect x="749" y="186" width="1" height="22" fill="#ff0000"/>
<rect x="748" y="190" width="3" height="17" fill="#ff0000"/>
<rect x="749" y="191" width="1" height="15" fill="#ff4500"/>
<rect x="753" y="187" width="1" height="12" fill="#32cd32"/>
<rect x="752" y="192" width="3" height="5" fill="#32cd32"/>
<rect x="757" y="192" width="1" height="21" fill="#32cd32"/>
<rect x="756" y="196" width="3" height="12" fill="#32cd32"/>
<rect x="761" y="200" width="1" height="16" fill="#32cd32"/>
<rect x="760" y="207" width="3" height="7" fill="#32cd32"/>
<rect x="765" y="201" width="1" height="18" fill="#ff0000"/>
<rect x="764" y="205" width="3" height="9" fill="#ff0000"/>
<rect x="765" y="206" width="1" height="7" fill="#ff4500"/>
<rect x="769" y="201" width="1" height="10" fill="#32cd32"/>
<rect x="768" y="205" width="3" height="4" fill="#32cd32"/>
<rect x="773" y="208" width="1" height="9" fill="#32cd32"/>
<rect x="772" y="210" width="3" height="5" fill="#32cd32"/>
<rect x="777" y="214" width="1" height="19" fill="#32cd32"/>
<rect x="776" y="214" width="3" height="19" fill="#32cd32"/>
<rect x="781" y="220" width="1" height="18" fill="#ff0000"/>
<rect x="780" y="222" width="3" height="11" fill="#ff0000"/>
<rect x="781" y="223" width="1" height="9" fill="#ff4500"/>
<rect x="785" y="218" width="1" height="16" fill="#32cd32"/>
<rect x="784" y="222" width="3" height="12" fill="#32cd32"/>
<rect x="789" y="219" width="1" height="22" fill="#ff0000"/>
<rect x="788" y="221" width="3" height="13" fill="#ff0000"/>
<rect x="789" y="222" width="1" height="11" fill="#ff4500"/>
<rect x="793" y="224" width="1" height="10" fill="#32cd32"/>
<rect x="792" y="226" width="3" height="4" fill="#32cd32"/>
<rect x="797" y="227" width="1" height="9" fill="#32cd32"/>
<rect x="796" y="229" width="3" height="5" fill="#32cd32"/>
<rect x="801" y="232" width="1" height="20" fill="#32cd32"/>
<rect x="800" y="233" width="3" height="19" fill="#32cd32"/>
<rect x="805" y="239" width="1" height="18" fill="#ff0000"/>
<rect x="804" y="245" width="3" height="7" fill="#ff0000"/>
<rect x="805" y="246" width="1" height="5" fill="#ff4500"/>
<rect x="809" y="244" width="1" height="20" fill="#32cd32"/>
<rect x="808" y="245" width="3" height="16" fill="#32cd32"/>
<rect x="813" y="260" width="1" height="13" fill="#32cd32"/>
<rect x="812" y="265" width="3" height="5" fill="#32cd32"/>
<rect x="817" y="267" width="1" height="25" fill="#32cd32"/>
<rect x="816" y="270" width="3" height="11" fill="#32cd32"/>
<rect x="821" y="275" width="1" height="11" fill="#ff0000"/>
<rect x="820" y="279" width="3" height="2" fill="#ff0000"/>
<rect x="825" y="268" width="1" height="17" fill="#ff0000"/>
<rect x="824" y="269" width="3" height="11" fill="#ff0000"/>
<rect x="825" y="270" width="1" height="9" fill="#ff4500"/>
<rect x="829" y="268" width="1" height="10" fill="#32cd32"/>
<rect x="828" y="269" width="3" height="9" fill="#32cd32"/>
<rect x="833" y="274" width="1" height="9" fill="#32cd32"/>
<rect x="832" y="276" width="3" height="4" fill="#32cd32"/>
<rect x="837" y="263" width="1" height="20" fill="#ff0000"/>
<rect x="836" y="263" width="3" height="17" fill="#ff0000"/>
<rect x="837" y="264" width="1" height="15" fill="#ff4500"/>
<rect x="841" y="261" width="1" height="20" fill="#32cd32"/>
<rect x="840" y="262" width="3" height="17" fill="#32cd32"/>
<rect x="845" y="271" width="1" height="14" fill="#ff0000"/>
<rect x="844" y="274" width="3" height="5" fill="#ff0000"/>
<rect x="845" y="275" width="1" height="3" fill="#ff4500"/>
<rect x="849" y="273" width="1" height="7" fill="#32cd32"/>
<rect x="848" y="274" width="3" height="5" fill="#32cd32"/>
<rect x="853" y="278" width="1" height="19" fill="#32cd32"/>
<rect x="852" y="278" width="3" height="17" fill="#32cd32"/>
<rect x="857" y="293" width="1" height="30" fill="#32cd32"/>
<rect x="856" y="294" width="3" height="19" fill="#32cd32"/>
<rect x="861" y="309" width="1" height="29" fill="#32cd32"/>
<rect x="860" y="312" width="3" height="20" fill="#32cd32"/>
<rect x="865" y="311" width="1" height="23" fill="#32cd32"/>
<rect x="864" y="331" width="3" height="2" fill="#32cd32"/>
<rect x="869" y="314" width="1" height="22" fill="#ff0000"/>
<rect x="868" y="314" width="3" height="18" fill="#ff0000"/>
<rect x="869" y="315" width="1" height="16" fill="#ff4500"/>
<rect x="873" y="295" width="1" height="36" fill="#ff0000"/>
<rect x="872" y="307" width="3" height="15" fill="#ff0000"/>
<rect x="873" y="308" width="1" height="13" fill="#ff4500"/>
<rect x="877" y="299" width="1" height="20" fill="#32cd32"/>
<rect x="876" y="307" width="3" height="4" fill="#32cd32"/>
<rect x="881" y="281" width="1" height="33" fill="#ff0000"/>
<rect x="880" y="285" width="3" height="26" fill="#ff0000"/>
<rect x="881" y="286" width="1" height="24" fill="#ff4500"/>
<rect x="885" y="270" width="1" height="26" fill="#32cd32"/>
<rect x="884" y="285" width="3" height="5" fill="#32cd32"/>
<rect x="889" y="271" width="1" height="22" fill="#ff0000"/>
<rect x="888" y="280" width="3" height="9" fill="#ff0000"/>
<rect x="889" y="281" width="1" height="7" fill="#ff4500"/>
<rect x="893" y="278" width="1" height="16" fill="#32cd32"/>
<rect x="892" y="283" width="3" height="7" fill="#32cd32"/>
<rect x="897" y="280" width="1" height="11" fill="#ff0000"/>
<rect x="896" y="289" width="3" height="2" fill="#ff0000"/>
<rect x="901" y="284" width="1" height="30" fill="#32cd32"/>
<rect x="900" y="289" width="3" height="23" fill="#32cd32"/>
<rect x="905" y="306" width="1" height="40" fill="#32cd32"/>
<rect x="904" y="310" width="3" height="22" fill="#32cd32"/>
<rect x="909" y="314" width="1" height="20" fill="#ff0000"/>
<rect x="908" y="329" width="3" height="5" fill="#ff0000"/>
<rect x="909" y="330" width="1" height="3" fill="#ff4500"/>
<rect x="913" y="328" width="1" height="29" fill="#32cd32"/>
<rect x="912" y="331" width="3" height="21" fill="#32cd32"/>
<rect x="917" y="332" width="1" height="23" fill="#ff0000"/>
<rect x="916" y="334" width="3" height="18" fill="#ff0000"/>
<rect x="917" y="335" width="1" height="16" fill="#ff4500"/>
<rect x="921" y="329" width="1" height="9" fill="#32cd32"/>
<rect x="920" y="334" width="3" height="1" fill="#32cd32"/>
</g>
<rect x="0" y="244" width="6" height="6" fill="#00ff00"/>
<rect x="2" y="246" width="2" height="2" fill="#fff"/>
<rect x="1157" y="244" width="6" height="6" fill="#00ff00"/>
<rect x="1159" y="246" width="2" height="2" fill="#fff"/>
<rect x="0" y="321" width="6" height="6" fill="#0000ff"/>
<rect x="2" y="323" width="2" height="2" fill="#fff"/>
<rect x="1157" y="321" width="6" height="6" fill="#0000ff"/>
<rect x="1159" y="323" width="2" height="2" fill="#fff"/>
<rect x="1163" y="27" width="1" height="338" fill="#000"/>
<rect x="1163" y="366" width="1" height="63" fill="#000"/>
<rect x="1163" y="430" width="1" height="64" fill="#000"/>
<rect x="1163" y="104" width="2" height="2" fill="#ff0000"/>
<rect x="1163" y="163" width="2" height="2" fill="#ff0000"/>
<rect x="1163" y="246" width="2" height="2" fill="#00ff00"/>
<rect x="1163" y="323" width="2" height="2" fill="#0000ff"/>
<rect x="1165" y="99" width="40" height="11" fill="#ff0000"/>
<text transform="translate(1169.00,108) rotate(0.03) scale(0.4530,0.5000)" font-size="20" fill="#fff" stroke="#fff" stroke-width="0.35">7.10098</text>
<rect x="1165" y="158" width="40" height="11" fill="#ff0000"/>
<text transform="translate(1169.00,167) rotate(0.03) scale(0.4530,0.5000)" font-size="20" fill="#fff" stroke="#fff" stroke-width="0.35">7.01001</text>
<rect x="1165" y="241" width="40" height="11" fill="#00ff00"/>
<text transform="translate(1169.00,250) rotate(0.03) scale(0.4530,0.5000)" font-size="20" fill="#fff" stroke="#fff" stroke-width="0.35">6.88026</text>
<rect x="1165" y="318" width="40" height="11" fill="#0000ff"/>
<text transform="translate(1169.00,327) rotate(0.03) scale(0.4530,0.5000)" font-size="20" fill="#fff" stroke="#fff" stroke-width="0.35">6.76160</text>
<rect x="1165" y="329" width="40" height="11" fill="#000"/>
<text transform="translate(1169.00,338) rotate(0.03) scale(0.4530,0.5000)" font-size="20" fill="#fff" stroke="#fff" stroke-width="0.35">6.74650</text>
<text transform="translate(5.80,39) rotate(0.03) scale(0.4795,0.5000)" font-size="20" fill="#000" stroke="#000" stroke-width="0.35">USDCNH-,Daily</text>
<text transform="translate(80.50,39) rotate(0.03) scale(0.4594,0.5000)" font-size="20" fill="#000" stroke="#000" stroke-width="0.35">6.74667 6.75332 6.74098 6.74650</text>
<g shape-rendering="crispEdges">
<rect x="0" y="395" width="3" height="12" fill="#c0c0c0"/>
<rect x="4" y="395" width="3" height="11" fill="#c0c0c0"/>
<rect x="8" y="395" width="3" height="10" fill="#c0c0c0"/>
<rect x="12" y="395" width="3" height="8" fill="#c0c0c0"/>
<rect x="16" y="395" width="3" height="7" fill="#c0c0c0"/>
<rect x="20" y="395" width="3" height="7" fill="#c0c0c0"/>
<rect x="24" y="395" width="3" height="7" fill="#c0c0c0"/>
<rect x="28" y="395" width="3" height="6" fill="#c0c0c0"/>
<rect x="32" y="395" width="3" height="6" fill="#c0c0c0"/>
<rect x="36" y="395" width="3" height="5" fill="#c0c0c0"/>
<rect x="40" y="395" width="3" height="2" fill="#c0c0c0"/>
<rect x="44" y="395" width="3" height="1" fill="#c0c0c0"/>
<rect x="48" y="395" width="3" height="1" fill="#c0c0c0"/>
<rect x="52" y="395" width="3" height="2" fill="#c0c0c0"/>
<rect x="56" y="395" width="3" height="2" fill="#c0c0c0"/>
<rect x="60" y="395" width="3" height="2" fill="#c0c0c0"/>
<rect x="64" y="395" width="3" height="2" fill="#c0c0c0"/>
<rect x="68" y="395" width="3" height="8" fill="#c0c0c0"/>
<rect x="72" y="395" width="3" height="8" fill="#c0c0c0"/>
<rect x="76" y="395" width="3" height="9" fill="#c0c0c0"/>
<rect x="80" y="395" width="3" height="9" fill="#c0c0c0"/>
<rect x="84" y="395" width="3" height="9" fill="#c0c0c0"/>
<rect x="88" y="395" width="3" height="9" fill="#c0c0c0"/>
<rect x="92" y="395" width="3" height="9" fill="#c0c0c0"/>
<rect x="96" y="395" width="3" height="8" fill="#c0c0c0"/>
<rect x="100" y="395" width="3" height="8" fill="#c0c0c0"/>
<rect x="104" y="395" width="3" height="9" fill="#c0c0c0"/>
<rect x="108" y="395" width="3" height="9" fill="#c0c0c0"/>
<rect x="112" y="395" width="3" height="9" fill="#c0c0c0"/>
<rect x="116" y="395" width="3" height="9" fill="#c0c0c0"/>
<rect x="120" y="395" width="3" height="10" fill="#c0c0c0"/>
<rect x="124" y="395" width="3" height="11" fill="#c0c0c0"/>
<rect x="128" y="395" width="3" height="12" fill="#c0c0c0"/>
<rect x="132" y="395" width="3" height="12" fill="#c0c0c0"/>
<rect x="136" y="395" width="3" height="12" fill="#c0c0c0"/>
<rect x="140" y="395" width="3" height="13" fill="#c0c0c0"/>
<rect x="144" y="395" width="3" height="14" fill="#c0c0c0"/>
<rect x="148" y="395" width="3" height="15" fill="#c0c0c0"/>
<rect x="152" y="395" width="3" height="17" fill="#c0c0c0"/>
<rect x="156" y="395" width="3" height="20" fill="#c0c0c0"/>
<rect x="160" y="395" width="3" height="21" fill="#c0c0c0"/>
<rect x="164" y="395" width="3" height="22" fill="#c0c0c0"/>
<rect x="168" y="395" width="3" height="23" fill="#c0c0c0"/>
<rect x="172" y="395" width="3" height="25" fill="#c0c0c0"/>
<rect x="176" y="395" width="3" height="25" fill="#c0c0c0"/>
<rect x="180" y="395" width="3" height="23" fill="#c0c0c0"/>
<rect x="184" y="395" width="3" height="21" fill="#c0c0c0"/>
<rect x="188" y="395" width="3" height="18" fill="#c0c0c0"/>
<rect x="192" y="395" width="3" height="15" fill="#c0c0c0"/>
<rect x="196" y="395" width="3" height="11" fill="#c0c0c0"/>
<rect x="200" y="395" width="3" height="8" fill="#c0c0c0"/>
<rect x="204" y="395" width="3" height="6" fill="#c0c0c0"/>
<rect x="208" y="395" width="3" height="2" fill="#c0c0c0"/>
<rect x="212" y="393" width="3" height="2" fill="#c0c0c0"/>
<rect x="216" y="390" width="3" height="5" fill="#c0c0c0"/>
<rect x="220" y="389" width="3" height="6" fill="#c0c0c0"/>
<rect x="224" y="389" width="3" height="6" fill="#c0c0c0"/>
<rect x="228" y="389" width="3" height="6" fill="#c0c0c0"/>
<rect x="232" y="387" width="3" height="8" fill="#c0c0c0"/>
<rect x="236" y="387" width="3" height="8" fill="#c0c0c0"/>
<rect x="240" y="388" width="3" height="7" fill="#c0c0c0"/>
<rect x="244" y="388" width="3" height="7" fill="#c0c0c0"/>
<rect x="248" y="388" width="3" height="7" fill="#c0c0c0"/>
<rect x="252" y="388" width="3" height="7" fill="#c0c0c0"/>
<rect x="256" y="388" width="3" height="7" fill="#c0c0c0"/>
<rect x="260" y="387" width="3" height="8" fill="#c0c0c0"/>
<rect x="264" y="386" width="3" height="9" fill="#c0c0c0"/>
<rect x="268" y="384" width="3" height="11" fill="#c0c0c0"/>
<rect x="272" y="382" width="3" height="13" fill="#c0c0c0"/>
<rect x="276" y="382" width="3" height="13" fill="#c0c0c0"/>
<rect x="280" y="382" width="3" height="13" fill="#c0c0c0"/>
<rect x="284" y="382" width="3" height="13" fill="#c0c0c0"/>
<rect x="288" y="383" width="3" height="12" fill="#c0c0c0"/>
<rect x="292" y="386" width="3" height="9" fill="#c0c0c0"/>
<rect x="296" y="389" width="3" height="6" fill="#c0c0c0"/>
<rect x="300" y="392" width="3" height="3" fill="#c0c0c0"/>
<rect x="304" y="395" width="3" height="2" fill="#c0c0c0"/>
<rect x="308" y="395" width="3" height="5" fill="#c0c0c0"/>
<rect x="312" y="395" width="3" height="7" fill="#c0c0c0"/>
<rect x="316" y="395" width="3" height="7" fill="#c0c0c0"/>
<rect x="320" y="395" width="3" height="7" fill="#c0c0c0"/>
<rect x="324" y="395" width="3" height="6" fill="#c0c0c0"/>
<rect x="328" y="395" width="3" height="3" fill="#c0c0c0"/>
<rect x="332" y="393" width="3" height="2" fill="#c0c0c0"/>
<rect x="336" y="392" width="3" height="3" fill="#c0c0c0"/>
<rect x="340" y="390" width="3" height="5" fill="#c0c0c0"/>
<rect x="344" y="386" width="3" height="9" fill="#c0c0c0"/>
<rect x="348" y="378" width="3" height="17" fill="#c0c0c0"/>
<rect x="352" y="374" width="3" height="21" fill="#c0c0c0"/>
<rect x="356" y="372" width="3" height="23" fill="#c0c0c0"/>
<rect x="360" y="372" width="3" height="23" fill="#c0c0c0"/>
<rect x="364" y="370" width="3" height="25" fill="#c0c0c0"/>
<rect x="368" y="371" width="3" height="24" fill="#c0c0c0"/>
<rect x="372" y="372" width="3" height="23" fill="#c0c0c0"/>
<rect x="376" y="372" width="3" height="23" fill="#c0c0c0"/>
<rect x="380" y="373" width="3" height="22" fill="#c0c0c0"/>
<rect x="384" y="373" width="3" height="22" fill="#c0c0c0"/>
<rect x="388" y="373" width="3" height="22" fill="#c0c0c0"/>
<rect x="392" y="373" width="3" height="22" fill="#c0c0c0"/>
<rect x="396" y="374" width="3" height="21" fill="#c0c0c0"/>
<rect x="400" y="377" width="3" height="18" fill="#c0c0c0"/>
<rect x="404" y="380" width="3" height="15" fill="#c0c0c0"/>
<rect x="408" y="382" width="3" height="13" fill="#c0c0c0"/>
<rect x="412" y="385" width="3" height="10" fill="#c0c0c0"/>
<rect x="416" y="387" width="3" height="8" fill="#c0c0c0"/>
<rect x="420" y="388" width="3" height="7" fill="#c0c0c0"/>
<rect x="424" y="388" width="3" height="7" fill="#c0c0c0"/>
<rect x="428" y="388" width="3" height="7" fill="#c0c0c0"/>
<rect x="432" y="388" width="3" height="7" fill="#c0c0c0"/>
<rect x="436" y="387" width="3" height="8" fill="#c0c0c0"/>
<rect x="440" y="388" width="3" height="7" fill="#c0c0c0"/>
<rect x="444" y="388" width="3" height="7" fill="#c0c0c0"/>
<rect x="448" y="388" width="3" height="7" fill="#c0c0c0"/>
<rect x="452" y="388" width="3" height="7" fill="#c0c0c0"/>
<rect x="456" y="388" width="3" height="7" fill="#c0c0c0"/>
<rect x="460" y="389" width="3" height="6" fill="#c0c0c0"/>
<rect x="464" y="389" width="3" height="6" fill="#c0c0c0"/>
<rect x="468" y="388" width="3" height="7" fill="#c0c0c0"/>
<rect x="472" y="385" width="3" height="10" fill="#c0c0c0"/>
<rect x="476" y="385" width="3" height="10" fill="#c0c0c0"/>
<rect x="480" y="384" width="3" height="11" fill="#c0c0c0"/>
<rect x="484" y="386" width="3" height="9" fill="#c0c0c0"/>
<rect x="488" y="388" width="3" height="7" fill="#c0c0c0"/>
<rect x="492" y="387" width="3" height="8" fill="#c0c0c0"/>
<rect x="496" y="387" width="3" height="8" fill="#c0c0c0"/>
<rect x="500" y="388" width="3" height="7" fill="#c0c0c0"/>
<rect x="504" y="388" width="3" height="7" fill="#c0c0c0"/>
<rect x="508" y="387" width="3" height="8" fill="#c0c0c0"/>
<rect x="512" y="388" width="3" height="7" fill="#c0c0c0"/>
<rect x="516" y="388" width="3" height="7" fill="#c0c0c0"/>
<rect x="520" y="388" width="3" height="7" fill="#c0c0c0"/>
<rect x="524" y="388" width="3" height="7" fill="#c0c0c0"/>
<rect x="528" y="386" width="3" height="9" fill="#c0c0c0"/>
<rect x="532" y="385" width="3" height="10" fill="#c0c0c0"/>
<rect x="536" y="385" width="3" height="10" fill="#c0c0c0"/>
<rect x="540" y="382" width="3" height="13" fill="#c0c0c0"/>
<rect x="544" y="381" width="3" height="14" fill="#c0c0c0"/>
<rect x="548" y="382" width="3" height="13" fill="#c0c0c0"/>
<rect x="552" y="383" width="3" height="12" fill="#c0c0c0"/>
<rect x="556" y="386" width="3" height="9" fill="#c0c0c0"/>
<rect x="560" y="388" width="3" height="7" fill="#c0c0c0"/>
<rect x="564" y="390" width="3" height="5" fill="#c0c0c0"/>
<rect x="568" y="393" width="3" height="2" fill="#c0c0c0"/>
<rect x="572" y="395" width="3" height="3" fill="#c0c0c0"/>
<rect x="576" y="395" width="3" height="4" fill="#c0c0c0"/>
<rect x="580" y="395" width="3" height="7" fill="#c0c0c0"/>
<rect x="584" y="395" width="3" height="7" fill="#c0c0c0"/>
<rect x="588" y="395" width="3" height="7" fill="#c0c0c0"/>
<rect x="592" y="395" width="3" height="9" fill="#c0c0c0"/>
<rect x="596" y="395" width="3" height="8" fill="#c0c0c0"/>
<rect x="600" y="395" width="3" height="8" fill="#c0c0c0"/>
<rect x="604" y="395" width="3" height="8" fill="#c0c0c0"/>
<rect x="608" y="395" width="3" height="8" fill="#c0c0c0"/>
<rect x="612" y="395" width="3" height="9" fill="#c0c0c0"/>
<rect x="616" y="395" width="3" height="10" fill="#c0c0c0"/>
<rect x="620" y="395" width="3" height="9" fill="#c0c0c0"/>
<rect x="624" y="395" width="3" height="8" fill="#c0c0c0"/>
<rect x="628" y="395" width="3" height="7" fill="#c0c0c0"/>
<rect x="632" y="395" width="3" height="7" fill="#c0c0c0"/>
<rect x="636" y="395" width="3" height="7" fill="#c0c0c0"/>
<rect x="640" y="395" width="3" height="7" fill="#c0c0c0"/>
<rect x="644" y="395" width="3" height="7" fill="#c0c0c0"/>
<rect x="648" y="395" width="3" height="7" fill="#c0c0c0"/>
<rect x="652" y="395" width="3" height="10" fill="#c0c0c0"/>
<rect x="656" y="395" width="3" height="11" fill="#c0c0c0"/>
<rect x="660" y="395" width="3" height="14" fill="#c0c0c0"/>
<rect x="664" y="395" width="3" height="16" fill="#c0c0c0"/>
<rect x="668" y="395" width="3" height="16" fill="#c0c0c0"/>
<rect x="672" y="395" width="3" height="17" fill="#c0c0c0"/>
<rect x="676" y="395" width="3" height="17" fill="#c0c0c0"/>
<rect x="680" y="395" width="3" height="19" fill="#c0c0c0"/>
<rect x="684" y="395" width="3" height="19" fill="#c0c0c0"/>
<rect x="688" y="395" width="3" height="19" fill="#c0c0c0"/>
<rect x="692" y="395" width="3" height="19" fill="#c0c0c0"/>
<rect x="696" y="395" width="3" height="20" fill="#c0c0c0"/>
<rect x="700" y="395" width="3" height="17" fill="#c0c0c0"/>
<rect x="704" y="395" width="3" height="16" fill="#c0c0c0"/>
<rect x="708" y="395" width="3" height="14" fill="#c0c0c0"/>
<rect x="712" y="395" width="3" height="13" fill="#c0c0c0"/>
<rect x="716" y="395" width="3" height="13" fill="#c0c0c0"/>
<rect x="720" y="395" width="3" height="12" fill="#c0c0c0"/>
<rect x="724" y="395" width="3" height="12" fill="#c0c0c0"/>
<rect x="728" y="395" width="3" height="12" fill="#c0c0c0"/>
<rect x="732" y="395" width="3" height="12" fill="#c0c0c0"/>
<rect x="736" y="395" width="3" height="13" fill="#c0c0c0"/>
<rect x="740" y="395" width="3" height="15" fill="#c0c0c0"/>
<rect x="744" y="395" width="3" height="16" fill="#c0c0c0"/>
<rect x="748" y="395" width="3" height="15" fill="#c0c0c0"/>
<rect x="752" y="395" width="3" height="15" fill="#c0c0c0"/>
<rect x="756" y="395" width="3" height="16" fill="#c0c0c0"/>
<rect x="760" y="395" width="3" height="17" fill="#c0c0c0"/>
<rect x="764" y="395" width="3" height="17" fill="#c0c0c0"/>
<rect x="768" y="395" width="3" height="17" fill="#c0c0c0"/>
<rect x="772" y="395" width="3" height="16" fill="#c0c0c0"/>
<rect x="776" y="395" width="3" height="18" fill="#c0c0c0"/>
<rect x="780" y="395" width="3" height="19" fill="#c0c0c0"/>
<rect x="784" y="395" width="3" height="20" fill="#c0c0c0"/>
<rect x="788" y="395" width="3" height="18" fill="#c0c0c0"/>
<rect x="792" y="395" width="3" height="18" fill="#c0c0c0"/>
<rect x="796" y="395" width="3" height="18" fill="#c0c0c0"/>
<rect x="800" y="395" width="3" height="21" fill="#c0c0c0"/>
<rect x="804" y="395" width="3" height="21" fill="#c0c0c0"/>
<rect x="808" y="395" width="3" height="22" fill="#c0c0c0"/>
<rect x="812" y="395" width="3" height="24" fill="#c0c0c0"/>
<rect x="816" y="395" width="3" height="26" fill="#c0c0c0"/>
<rect x="820" y="395" width="3" height="27" fill="#c0c0c0"/>
<rect x="824" y="395" width="3" height="27" fill="#c0c0c0"/>
<rect x="828" y="395" width="3" height="27" fill="#c0c0c0"/>
<rect x="832" y="395" width="3" height="27" fill="#c0c0c0"/>
<rect x="836" y="395" width="3" height="25" fill="#c0c0c0"/>
<rect x="840" y="395" width="3" height="24" fill="#c0c0c0"/>
<rect x="844" y="395" width="3" height="23" fill="#c0c0c0"/>
<rect x="848" y="395" width="3" height="23" fill="#c0c0c0"/>
<rect x="852" y="395" width="3" height="25" fill="#c0c0c0"/>
<rect x="856" y="395" width="3" height="26" fill="#c0c0c0"/>
<rect x="860" y="395" width="3" height="29" fill="#c0c0c0"/>
<rect x="864" y="395" width="3" height="31" fill="#c0c0c0"/>
<rect x="868" y="395" width="3" height="30" fill="#c0c0c0"/>
<rect x="872" y="395" width="3" height="29" fill="#c0c0c0"/>
<rect x="876" y="395" width="3" height="28" fill="#c0c0c0"/>
<rect x="880" y="395" width="3" height="25" fill="#c0c0c0"/>
<rect x="884" y="395" width="3" height="22" fill="#c0c0c0"/>
<rect x="888" y="395" width="3" height="19" fill="#c0c0c0"/>
<rect x="892" y="395" width="3" height="18" fill="#c0c0c0"/>
<rect x="896" y="395" width="3" height="16" fill="#c0c0c0"/>
<rect x="900" y="395" width="3" height="16" fill="#c0c0c0"/>
<rect x="904" y="395" width="3" height="18" fill="#c0c0c0"/>
<rect x="908" y="395" width="3" height="20" fill="#c0c0c0"/>
<rect x="912" y="395" width="3" height="22" fill="#c0c0c0"/>
<rect x="916" y="395" width="3" height="22" fill="#c0c0c0"/>
<rect x="920" y="395" width="3" height="22" fill="#c0c0c0"/>
</g>
<path d="M382 372.5h19M378 373.5h4M401 373.5h2M375 374.5h3M403 374.5h3M373 375.5h2M406 375.5h3M372 376.5h1M409 376.5h3M370 377.5h2M412 377.5h3M369 378.5h1M415 378.5h2M367 379.5h2M417 379.5h3M366 380.5h1M420 380.5h3M365 381.5h1M423 381.5h2M363 382.5h2M425 382.5h3M288 383.5h8M362 383.5h1M428 383.5h3M282 384.5h6M296 384.5h5M361 384.5h1M431 384.5h2M550 384.5h14M278 385.5h4M301 385.5h4M359 385.5h2M433 385.5h2M547 385.5h3M564 385.5h7M264 386.5h14M305 386.5h2M358 386.5h1M435 386.5h3M491 386.5h21M539 386.5h8M571 386.5h2M254 387.5h10M307 387.5h2M357 387.5h1M438 387.5h26M467 387.5h24M512 387.5h27M573 387.5h1M246 388.5h8M309 388.5h2M356 388.5h1M464 388.5h3M574 388.5h2M242 389.5h4M311 389.5h2M354 389.5h2M576 389.5h2M238 390.5h4M313 390.5h2M353 390.5h1M578 390.5h1M236 391.5h2M315 391.5h2M352 391.5h1M579 391.5h2M234 392.5h2M317 392.5h2M350 392.5h2M581 392.5h2M232 393.5h2M319 393.5h2M349 393.5h1M583 393.5h2M230 394.5h2M321 394.5h3M347 394.5h2M585 394.5h3M229 395.5h1M324 395.5h2M345 395.5h2M588 395.5h2M227 396.5h2M326 396.5h3M342 396.5h3M590 396.5h3M55 397.5h22M226 397.5h1M329 397.5h2M336 397.5h6M593 397.5h3M49 398.5h6M77 398.5h4M224 398.5h2M331 398.5h5M596 398.5h2M45 399.5h4M81 399.5h4M223 399.5h1M598 399.5h2M41 400.5h4M85 400.5h3M221 400.5h2M600 400.5h2M36 401.5h5M88 401.5h4M220 401.5h1M602 401.5h11M31 402.5h5M92 402.5h5M219 402.5h1M613 402.5h4M631 402.5h34M27 403.5h4M97 403.5h37M217 403.5h2M617 403.5h14M665 403.5h3M23 404.5h4M134 404.5h5M216 404.5h1M668 404.5h3M19 405.5h4M139 405.5h6M215 405.5h1M671 405.5h4M17 406.5h2M145 406.5h6M213 406.5h2M675 406.5h3M14 407.5h3M151 407.5h4M212 407.5h1M678 407.5h3M732 407.5h20M12 408.5h2M155 408.5h5M211 408.5h1M681 408.5h4M725 408.5h7M752 408.5h4M8 409.5h4M160 409.5h4M209 409.5h2M685 409.5h3M721 409.5h4M756 409.5h12M3 410.5h5M164 410.5h3M207 410.5h2M688 410.5h3M717 410.5h4M768 410.5h12M0 411.5h3M167 411.5h2M205 411.5h2M691 411.5h4M713 411.5h4M780 411.5h8M169 412.5h2M202 412.5h3M695 412.5h18M788 412.5h12M171 413.5h2M199 413.5h3M800 413.5h8M915 413.5h6M173 414.5h5M197 414.5h2M808 414.5h8M906 414.5h9M178 415.5h8M193 415.5h4M816 415.5h5M904 415.5h2M186 416.5h7M821 416.5h4M901 416.5h3M825 417.5h2M899 417.5h2M827 418.5h4M896 418.5h3M831 419.5h9M894 419.5h2M840 420.5h28M891 420.5h3M868 421.5h23" fill="none" stroke="#ff0000" stroke-width="1" shape-rendering="crispEdges"/>
<text transform="translate(5.50,379) rotate(0.03) scale(0.4693,0.5000)" font-size="20" fill="#000" stroke="#000" stroke-width="0.35">MACD(12,26,9)</text>
<text transform="translate(74.60,379) rotate(0.03) scale(0.4452,0.5000)" font-size="20" fill="#000" stroke="#000" stroke-width="0.35">-0.031055</text>
<text transform="translate(118.60,379) rotate(0.03) scale(0.4452,0.5000)" font-size="20" fill="#000" stroke="#000" stroke-width="0.35">-0.026770</text>
<rect x="1164" y="368" width="1" height="1" fill="#000"/>
<rect x="1164" y="395" width="1" height="1" fill="#000"/>
<rect x="1164" y="428" width="1" height="1" fill="#000"/>
<text transform="translate(1167.00,377) rotate(0.03) scale(0.4591,0.5000)" font-size="20" fill="#000" stroke="#000" stroke-width="0.35">0.039044</text>
<text transform="translate(1167.00,399) rotate(0.03) scale(0.4625,0.5000)" font-size="20" fill="#000" stroke="#000" stroke-width="0.35">0.00</text>
<text transform="translate(1167.00,425) rotate(0.03) scale(0.4618,0.5000)" font-size="20" fill="#000" stroke="#000" stroke-width="0.35">-0.046959</text>
<line x1="2" y1="450.5" x2="1163" y2="450.5" stroke="#c0c0c0" stroke-width="1" stroke-dasharray="3 3" shape-rendering="crispEdges"/>
<line x1="2" y1="474.5" x2="1163" y2="474.5" stroke="#c0c0c0" stroke-width="1" stroke-dasharray="3 3" shape-rendering="crispEdges"/>
<path d="M349 446.5h1M348.5 447v2M350 447.5h1M351 448.5h1M347.5 449v2M352 449.5h1M353 450.5h1M346.5 451v2M354 451.5h2M542 451.5h1M217 452.5h1M269 452.5h1M356 452.5h1M541 452.5h1M543 452.5h1M215 453.5h2M218 453.5h1M268 453.5h1M270 453.5h2M344 453.5h2M357 453.5h1M539 453.5h2M544 453.5h2M213 454.5h2M219.5 454v2M267 454.5h1M272 454.5h3M342 454.5h2M358 454.5h1M365 454.5h1M469 454.5h5M538 454.5h1M546 454.5h1M211 455.5h2M233 455.5h1M266 455.5h1M275 455.5h7M329 455.5h5M341 455.5h1M359 455.5h1M363 455.5h2M366 455.5h1M468.5 455v2M474 455.5h2M528 455.5h10M547 455.5h1M197 456.5h1M208 456.5h3M220 456.5h1M232 456.5h1M234 456.5h1M263 456.5h3M282 456.5h2M329 456.5h1M334 456.5h1M339 456.5h2M360 456.5h1M362 456.5h1M367 456.5h1M376 456.5h4M384 456.5h2M476 456.5h2M480 456.5h2M509 456.5h1M526 456.5h2M548 456.5h2M41 457.5h1M196.5 457v2M198 457.5h1M206 457.5h2M221 457.5h1M231.5 457v2M235 457.5h1M260 457.5h3M284 457.5h2M328.5 457v2M335 457.5h2M338 457.5h1M361 457.5h1M368 457.5h1M374 457.5h2M380 457.5h1M382 457.5h2M386 457.5h1M392 457.5h3M436 457.5h7M467 457.5h1M478 457.5h2M482.5 457v2M507 457.5h2M510 457.5h1M525 457.5h1M550 457.5h1M40 458.5h1M42 458.5h2M199 458.5h2M203 458.5h3M222 458.5h1M236 458.5h1M251 458.5h4M258 458.5h2M286 458.5h2M337 458.5h1M369 458.5h5M381 458.5h1M387 458.5h2M390 458.5h2M395 458.5h3M434 458.5h2M443 458.5h2M466 458.5h1M506 458.5h1M511 458.5h2M524 458.5h1M551 458.5h1M39 459.5h1M44 459.5h2M195.5 459v2M201 459.5h2M223 459.5h2M230 459.5h1M237 459.5h1M245 459.5h6M255 459.5h3M288 459.5h1M327.5 459v2M389 459.5h1M398 459.5h1M431 459.5h3M445 459.5h12M465 459.5h1M483 459.5h1M495 459.5h11M513 459.5h5M523 459.5h1M552.5 459v2M38 460.5h1M46 460.5h1M225 460.5h5M238 460.5h1M243 460.5h2M289 460.5h1M399 460.5h1M421 460.5h10M457 460.5h2M463 460.5h2M484.5 460v2M491 460.5h4M518 460.5h2M522 460.5h1M4 461.5h2M37 461.5h1M47 461.5h2M194.5 461v2M239 461.5h2M242 461.5h1M290.5 461v2M325 461.5h2M400 461.5h1M420 461.5h1M459 461.5h2M462 461.5h1M487 461.5h4M520 461.5h2M553 461.5h1M2 462.5h2M6 462.5h2M11 462.5h3M35 462.5h2M49 462.5h1M57 462.5h1M241 462.5h1M323 462.5h2M401 462.5h11M419 462.5h1M461 462.5h1M485 462.5h2M554 462.5h1M1 463.5h1M8 463.5h3M14 463.5h2M27 463.5h8M50 463.5h1M55 463.5h2M58 463.5h2M191 463.5h3M291 463.5h1M321 463.5h2M412 463.5h3M418 463.5h1M555 463.5h2M559 463.5h4M627 463.5h6M888 463.5h2M16 464.5h2M24 464.5h3M51 464.5h2M54 464.5h1M60 464.5h6M96 464.5h7M187 464.5h4M292 464.5h1M319 464.5h2M415 464.5h3M557 464.5h2M563 464.5h2M621 464.5h6M633 464.5h2M707 464.5h2M886 464.5h2M890 464.5h2M18 465.5h2M22 465.5h2M53 465.5h1M65 465.5h1M73 465.5h2M83 465.5h13M103 465.5h2M185 465.5h2M293 465.5h1M317 465.5h2M565 465.5h1M587 465.5h3M596 465.5h13M620 465.5h1M635 465.5h2M643 465.5h7M701 465.5h2M705 465.5h2M709 465.5h2M716 465.5h5M881 465.5h5M892 465.5h6M20 466.5h2M66.5 466v2M73 466.5h1M75 466.5h8M105 466.5h11M183 466.5h2M294 466.5h2M316 466.5h1M566 466.5h1M585 466.5h2M590 466.5h2M594 466.5h2M609 466.5h2M619 466.5h1M637 466.5h6M649 466.5h1M701 466.5h1M703 466.5h2M711 466.5h2M714 466.5h2M721 466.5h2M880.5 466v2M898 466.5h1M72.5 467v2M116 467.5h2M181 467.5h2M296 467.5h1M314 467.5h2M567 467.5h1M577 467.5h1M583 467.5h2M592 467.5h2M611 467.5h2M618 467.5h1M650.5 467v2M700.5 467v2M713 467.5h1M723 467.5h3M749 467.5h1M899 467.5h1M67.5 468v2M118 468.5h1M134 468.5h4M180.5 468v2M297 468.5h5M309 468.5h2M313 468.5h1M568 468.5h1M575 468.5h2M578 468.5h2M582 468.5h1M613 468.5h5M726 468.5h4M748.5 468v2M750 468.5h2M879 468.5h1M900 468.5h1M71.5 469v2M119 469.5h2M131 469.5h3M138 469.5h2M302 469.5h1M307 469.5h2M311 469.5h2M569 469.5h2M574 469.5h1M580 469.5h2M651.5 469v2M699.5 469v3M730 469.5h4M752 469.5h2M765 469.5h3M790 469.5h2M837 469.5h1M878.5 469v2M901 469.5h1M68.5 470v2M121 470.5h1M124 470.5h7M140 470.5h2M179.5 470v2M303 470.5h2M306 470.5h1M571 470.5h3M734 470.5h3M747 470.5h1M754 470.5h2M763 470.5h2M768 470.5h4M789 470.5h1M792 470.5h4M836.5 470v2M838 470.5h2M902 470.5h1M916 470.5h5M70.5 471v2M122 471.5h2M142 471.5h1M305 471.5h1M652.5 471v2M669 471.5h2M685 471.5h4M737 471.5h1M746.5 471v2M756 471.5h3M762 471.5h1M772 471.5h3M781 471.5h1M787 471.5h2M796 471.5h3M840 471.5h2M844 471.5h6M872 471.5h6M903 471.5h2M915.5 471v2M69.5 472v2M143 472.5h2M178.5 472v2M656 472.5h1M668 472.5h1M671 472.5h8M683 472.5h2M689 472.5h2M698.5 472v2M738 472.5h2M759 472.5h3M775 472.5h1M779 472.5h2M782 472.5h2M786 472.5h1M799 472.5h1M804 472.5h2M835 472.5h1M842 472.5h2M850 472.5h1M870 472.5h2M905 472.5h6M145 473.5h2M161 473.5h5M653 473.5h3M657 473.5h2M667 473.5h1M679 473.5h2M682 473.5h1M691 473.5h3M740 473.5h1M743 473.5h3M776 473.5h1M778 473.5h1M784 473.5h2M800 473.5h1M802 473.5h2M806 473.5h2M825 473.5h2M834.5 473v2M851 473.5h2M869 473.5h1M911 473.5h1M914.5 473v2M147 474.5h4M160 474.5h1M166 474.5h3M176 474.5h2M653 474.5h1M659 474.5h2M666 474.5h1M681 474.5h1M694 474.5h2M697.5 474v2M741 474.5h2M777 474.5h1M801 474.5h1M808 474.5h2M824 474.5h1M827 474.5h4M853 474.5h2M868.5 474v2M912 474.5h1M151 475.5h3M159.5 475v2M169 475.5h2M174 475.5h2M661 475.5h5M696 475.5h1M810 475.5h2M823 475.5h1M831 475.5h3M855 475.5h2M913 475.5h1M154 476.5h1M171 476.5h3M812 476.5h3M822 476.5h1M857 476.5h2M867 476.5h1M155 477.5h2M158 477.5h1M815 477.5h7M859 477.5h2M866.5 477v2M157 478.5h1M861 478.5h2M863 479.5h3" fill="none" stroke="#1e90ff" stroke-width="1" shape-rendering="crispEdges"/>
<text transform="translate(5.50,443) rotate(0.03) scale(0.4557,0.5000)" font-size="20" fill="#000" stroke="#000" stroke-width="0.35">RSI(14)</text>
<text transform="translate(40.50,443) rotate(0.03) scale(0.4495,0.5000)" font-size="20" fill="#000" stroke="#000" stroke-width="0.35">36.7836</text>
<rect x="1164" y="432" width="1" height="1" fill="#000"/>
<rect x="1164" y="493" width="1" height="1" fill="#000"/>
<text transform="translate(1167.00,441) rotate(0.03) scale(0.4496,0.5000)" font-size="20" fill="#000" stroke="#000" stroke-width="0.35">100</text>
<text transform="translate(1166.25,454) rotate(0.03) scale(0.4496,0.5000)" font-size="20" fill="#000" stroke="#000" stroke-width="0.35">70</text>
<text transform="translate(1166.25,478) rotate(0.03) scale(0.4496,0.5000)" font-size="20" fill="#000" stroke="#000" stroke-width="0.35">30</text>
<text transform="translate(1167.00,490) rotate(0.03) scale(0.4496,0.5000)" font-size="20" fill="#000" stroke="#000" stroke-width="0.35">0</text>
<rect x="1" y="494" width="1" height="3" fill="#000"/>
<text transform="translate(0.80,506) rotate(0.03) scale(0.4655,0.5000)" font-size="20" fill="#000" stroke="#000" stroke-width="0.35">19 Nov 2019</text>
<rect x="65" y="494" width="1" height="3" fill="#000"/>
<text transform="translate(65.10,506) rotate(0.03) scale(0.4547,0.5000)" font-size="20" fill="#000" stroke="#000" stroke-width="0.35">11 Dec 2019</text>
<rect x="129" y="494" width="1" height="3" fill="#000"/>
<text transform="translate(128.70,506) rotate(0.03) scale(0.4455,0.5000)" font-size="20" fill="#000" stroke="#000" stroke-width="0.35">2 Jan 2020</text>
<rect x="193" y="494" width="1" height="3" fill="#000"/>
<text transform="translate(192.70,506) rotate(0.03) scale(0.4478,0.5000)" font-size="20" fill="#000" stroke="#000" stroke-width="0.35">24 Jan 2020</text>
<rect x="257" y="494" width="1" height="3" fill="#000"/>
<text transform="translate(256.90,506) rotate(0.03) scale(0.4478,0.5000)" font-size="20" fill="#000" stroke="#000" stroke-width="0.35">17 Feb 2020</text>
<rect x="321" y="494" width="1" height="3" fill="#000"/>
<text transform="translate(321.10,506) rotate(0.03) scale(0.4524,0.5000)" font-size="20" fill="#000" stroke="#000" stroke-width="0.35">10 Mar 2020</text>
<rect x="385" y="494" width="1" height="3" fill="#000"/>
<text transform="translate(385.00,506) rotate(0.03) scale(0.4631,0.5000)" font-size="20" fill="#000" stroke="#000" stroke-width="0.35">1 Apr 2020</text>
<rect x="449" y="494" width="1" height="3" fill="#000"/>
<text transform="translate(448.50,506) rotate(0.03) scale(0.4681,0.5000)" font-size="20" fill="#000" stroke="#000" stroke-width="0.35">24 Apr 2020</text>
<rect x="513" y="494" width="1" height="3" fill="#000"/>
<text transform="translate(512.40,506) rotate(0.03) scale(0.4696,0.5000)" font-size="20" fill="#000" stroke="#000" stroke-width="0.35">18 May 2020</text>
<rect x="577" y="494" width="1" height="3" fill="#000"/>
<text transform="translate(576.20,506) rotate(0.03) scale(0.4526,0.5000)" font-size="20" fill="#000" stroke="#000" stroke-width="0.35">9 Jun 2020</text>
<rect x="641" y="494" width="1" height="3" fill="#000"/>
<text transform="translate(641.00,506) rotate(0.03) scale(0.4388,0.5000)" font-size="20" fill="#000" stroke="#000" stroke-width="0.35">1 Jul 2020</text>
<rect x="705" y="494" width="1" height="3" fill="#000"/>
<text transform="translate(704.50,506) rotate(0.03) scale(0.4448,0.5000)" font-size="20" fill="#000" stroke="#000" stroke-width="0.35">23 Jul 2020</text>
<rect x="769" y="494" width="1" height="3" fill="#000"/>
<text transform="translate(769.10,506) rotate(0.03) scale(0.4584,0.5000)" font-size="20" fill="#000" stroke="#000" stroke-width="0.35">14 Aug 2020</text>
<rect x="833" y="494" width="1" height="3" fill="#000"/>
<text transform="translate(832.60,506) rotate(0.03) scale(0.4496,0.5000)" font-size="20" fill="#000" stroke="#000" stroke-width="0.35">7 Sep 2020</text>
<rect x="897" y="494" width="1" height="3" fill="#000"/>
<text transform="translate(897.00,506) rotate(0.03) scale(0.4461,0.5000)" font-size="20" fill="#000" stroke="#000" stroke-width="0.35">29 Sep 2020</text>
<rect x="0" y="514" width="1205" height="2" fill="#e8e8e8"/>
<rect x="0" y="516" width="1205" height="1" fill="#000"/>
<rect x="0" y="517" width="1205" height="19" fill="#f0f0f0"/>
<rect x="0" y="536" width="1205" height="1" fill="#ffffff"/>
<rect x="0" y="537" width="1205" height="3" fill="#f0f0f0"/>
<rect x="0" y="540" width="1205" height="1" fill="#a0a0a0"/>
<g filter="url(#idf)">
<text transform="translate(13.40,531) rotate(0.03) scale(0.6009,0.5600)" font-size="20" fill="#5c5c5c" stroke="#5c5c5c" stroke-width="0.35">EURUSD-,Daily</text>
<text transform="translate(119.90,531) rotate(0.03) scale(0.6186,0.5600)" font-size="20" fill="#5c5c5c" stroke="#5c5c5c" stroke-width="0.35">AUDUSD-,Daily</text>
<text transform="translate(230.50,531) rotate(0.03) scale(0.5964,0.5600)" font-size="20" fill="#5c5c5c" stroke="#5c5c5c" stroke-width="0.35">USDCHF-,Daily</text>
<text transform="translate(337.60,531) rotate(0.03) scale(0.6030,0.5600)" font-size="20" fill="#5c5c5c" stroke="#5c5c5c" stroke-width="0.35">USDCAD-,Daily</text>
<rect x="110" y="519" width="1" height="14" fill="#505050"/>
<rect x="218" y="519" width="1" height="14" fill="#505050"/>
<rect x="326" y="519" width="1" height="14" fill="#505050"/>
<rect x="435" y="516" width="110" height="18" fill="#ffffff"/>
<rect x="434" y="516" width="1" height="19" fill="#000"/>
<rect x="545" y="516" width="1" height="19" fill="#000"/>
<rect x="434" y="534" width="112" height="1" fill="#000"/>
<rect x="546" y="518" width="1" height="18" fill="#d0d0d0"/>
<rect x="436" y="535" width="111" height="1" fill="#d8d8d8"/>
<text transform="translate(446.70,531) rotate(0.03) scale(0.6096,0.5600)" font-size="20" fill="#000" stroke="#000" stroke-width="0.35">USDCNH-,Daily</text>
</g>
<path d="M1182.5 522 L1182.5 528.5 L1179 525.2 Z" fill="#909090"/>
<path d="M1198.3 522 L1198.3 528.5 L1201.8 525.2 Z" fill="#909090"/>
</svg>
</body></html>
